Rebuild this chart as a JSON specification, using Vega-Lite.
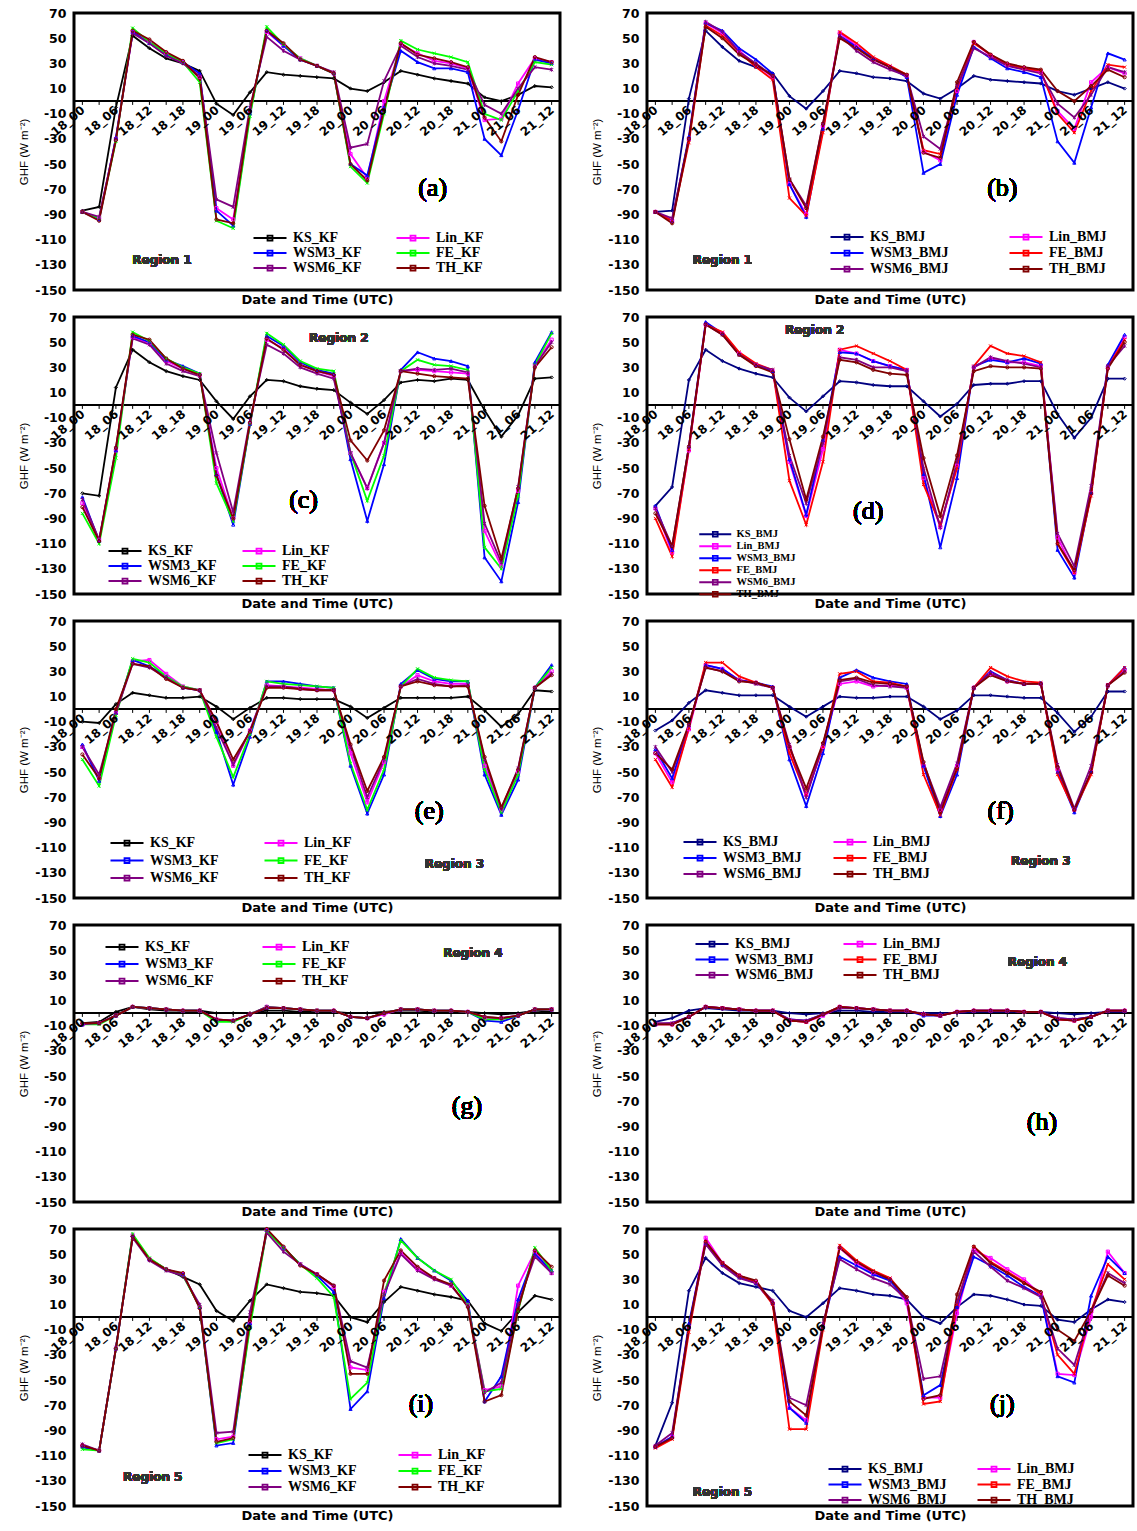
{"$schema":"https://vega.github.io/schema/vega-lite/v6.json","padding":{"left":17,"top":5,"right":0,"bottom":0},"background":"white",
"config":{"view":{"stroke":"black","strokeWidth":3},"axis":{"grid":false,"domain":false,"ticks":false},"axisX":{"labels":false,"titleFont":"DejaVu Sans","titleFontSize":13,"titleFontWeight":"bold","titleColor":"black","titlePadding":3},"axisY":{"labelFont":"DejaVu Sans","labelFontSize":12.5,"labelFontWeight":"bold","labelColor":"black","labelPadding":8,"labelOverlap":false,"labelFlush":false,"labelExpr":"'' + datum.value","titleFont":"Liberation Sans","titleFontSize":11.5,"titleFontWeight":"normal","titleColor":"black","titlePadding":5},"legend":{"labelFont":"Liberation Serif","labelFontSize":14,"labelFontWeight":"bold","labelColor":"black","symbolType":"M-3,0L3,0M-0.45,-0.45L0.45,-0.45L0.45,0.45L-0.45,0.45Z","symbolSize":121,"symbolStrokeWidth":1.8,"labelOffset":16,"padding":0,"labelLimit":300}},
"datasets":{
"tk":[{"t":0},{"t":1},{"t":2},{"t":3},{"t":4},{"t":5},{"t":6},{"t":7},{"t":8},{"t":9},{"t":10},{"t":11},{"t":12},{"t":13},{"t":14},{"t":15},{"t":16},{"t":17},{"t":18},{"t":19},{"t":20},{"t":21},{"t":22},{"t":23},{"t":24},{"t":25},{"t":26},{"t":27},{"t":28}],
"xl":[{"t":0,"lab":"18_00"},{"t":2,"lab":"18_06"},{"t":4,"lab":"18_12"},{"t":6,"lab":"18_18"},{"t":8,"lab":"19_00"},{"t":10,"lab":"19_06"},{"t":12,"lab":"19_12"},{"t":14,"lab":"19_18"},{"t":16,"lab":"20_00"},{"t":18,"lab":"20_06"},{"t":20,"lab":"20_12"},{"t":22,"lab":"20_18"},{"t":24,"lab":"21_00"},{"t":26,"lab":"21_06"},{"t":28,"lab":"21_12"}],
"a":[
{"s":"KS","t":0,"v":-87},{"s":"KS","t":1,"v":-84},{"s":"KS","t":2,"v":-5},{"s":"KS","t":3,"v":52},{"s":"KS","t":4,"v":42},{"s":"KS","t":5,"v":34},{"s":"KS","t":6,"v":30},{"s":"KS","t":7,"v":24},{"s":"KS","t":8,"v":-2},{"s":"KS","t":9,"v":-11},{"s":"KS","t":10,"v":7},{"s":"KS","t":11,"v":23},{"s":"KS","t":12,"v":21},{"s":"KS","t":13,"v":20},{"s":"KS","t":14,"v":19},{"s":"KS","t":15,"v":18},{"s":"KS","t":16,"v":10},{"s":"KS","t":17,"v":8},{"s":"KS","t":18,"v":15},{"s":"KS","t":19,"v":24},{"s":"KS","t":20,"v":21},{"s":"KS","t":21,"v":18},{"s":"KS","t":22,"v":16},{"s":"KS","t":23,"v":14},{"s":"KS","t":24,"v":3},{"s":"KS","t":25,"v":0},{"s":"KS","t":26,"v":5},{"s":"KS","t":27,"v":12},{"s":"KS","t":28,"v":11},
{"s":"Lin","t":0,"v":-88},{"s":"Lin","t":1,"v":-93},{"s":"Lin","t":2,"v":-30},{"s":"Lin","t":3,"v":55},{"s":"Lin","t":4,"v":47},{"s":"Lin","t":5,"v":38},{"s":"Lin","t":6,"v":31},{"s":"Lin","t":7,"v":19},{"s":"Lin","t":8,"v":-85},{"s":"Lin","t":9,"v":-94},{"s":"Lin","t":10,"v":-8},{"s":"Lin","t":11,"v":55},{"s":"Lin","t":12,"v":44},{"s":"Lin","t":13,"v":34},{"s":"Lin","t":14,"v":28},{"s":"Lin","t":15,"v":22},{"s":"Lin","t":16,"v":-42},{"s":"Lin","t":17,"v":-61},{"s":"Lin","t":18,"v":0},{"s":"Lin","t":19,"v":45},{"s":"Lin","t":20,"v":38},{"s":"Lin","t":21,"v":32},{"s":"Lin","t":22,"v":30},{"s":"Lin","t":23,"v":26},{"s":"Lin","t":24,"v":-15},{"s":"Lin","t":25,"v":-14},{"s":"Lin","t":26,"v":14},{"s":"Lin","t":27,"v":34},{"s":"Lin","t":28,"v":31},
{"s":"WSM3","t":0,"v":-88},{"s":"WSM3","t":1,"v":-94},{"s":"WSM3","t":2,"v":-29},{"s":"WSM3","t":3,"v":55},{"s":"WSM3","t":4,"v":46},{"s":"WSM3","t":5,"v":37},{"s":"WSM3","t":6,"v":31},{"s":"WSM3","t":7,"v":22},{"s":"WSM3","t":8,"v":-87},{"s":"WSM3","t":9,"v":-99},{"s":"WSM3","t":10,"v":-10},{"s":"WSM3","t":11,"v":56},{"s":"WSM3","t":12,"v":44},{"s":"WSM3","t":13,"v":33},{"s":"WSM3","t":14,"v":28},{"s":"WSM3","t":15,"v":22},{"s":"WSM3","t":16,"v":-50},{"s":"WSM3","t":17,"v":-59},{"s":"WSM3","t":18,"v":-5},{"s":"WSM3","t":19,"v":40},{"s":"WSM3","t":20,"v":31},{"s":"WSM3","t":21,"v":26},{"s":"WSM3","t":22,"v":26},{"s":"WSM3","t":23,"v":23},{"s":"WSM3","t":24,"v":-30},{"s":"WSM3","t":25,"v":-43},{"s":"WSM3","t":26,"v":-7},{"s":"WSM3","t":27,"v":33},{"s":"WSM3","t":28,"v":30},
{"s":"FE","t":0,"v":-88},{"s":"FE","t":1,"v":-93},{"s":"FE","t":2,"v":-32},{"s":"FE","t":3,"v":58},{"s":"FE","t":4,"v":47},{"s":"FE","t":5,"v":38},{"s":"FE","t":6,"v":31},{"s":"FE","t":7,"v":15},{"s":"FE","t":8,"v":-95},{"s":"FE","t":9,"v":-101},{"s":"FE","t":10,"v":-12},{"s":"FE","t":11,"v":59},{"s":"FE","t":12,"v":45},{"s":"FE","t":13,"v":34},{"s":"FE","t":14,"v":28},{"s":"FE","t":15,"v":22},{"s":"FE","t":16,"v":-52},{"s":"FE","t":17,"v":-65},{"s":"FE","t":18,"v":-10},{"s":"FE","t":19,"v":48},{"s":"FE","t":20,"v":41},{"s":"FE","t":21,"v":38},{"s":"FE","t":22,"v":35},{"s":"FE","t":23,"v":31},{"s":"FE","t":24,"v":-10},{"s":"FE","t":25,"v":-15},{"s":"FE","t":26,"v":8},{"s":"FE","t":27,"v":31},{"s":"FE","t":28,"v":29},
{"s":"WSM6","t":0,"v":-88},{"s":"WSM6","t":1,"v":-92},{"s":"WSM6","t":2,"v":-30},{"s":"WSM6","t":3,"v":54},{"s":"WSM6","t":4,"v":46},{"s":"WSM6","t":5,"v":36},{"s":"WSM6","t":6,"v":30},{"s":"WSM6","t":7,"v":20},{"s":"WSM6","t":8,"v":-78},{"s":"WSM6","t":9,"v":-84},{"s":"WSM6","t":10,"v":-5},{"s":"WSM6","t":11,"v":51},{"s":"WSM6","t":12,"v":40},{"s":"WSM6","t":13,"v":33},{"s":"WSM6","t":14,"v":28},{"s":"WSM6","t":15,"v":23},{"s":"WSM6","t":16,"v":-37},{"s":"WSM6","t":17,"v":-34},{"s":"WSM6","t":18,"v":16},{"s":"WSM6","t":19,"v":44},{"s":"WSM6","t":20,"v":35},{"s":"WSM6","t":21,"v":30},{"s":"WSM6","t":22,"v":28},{"s":"WSM6","t":23,"v":25},{"s":"WSM6","t":24,"v":-3},{"s":"WSM6","t":25,"v":-10},{"s":"WSM6","t":26,"v":10},{"s":"WSM6","t":27,"v":27},{"s":"WSM6","t":28,"v":25},
{"s":"TH","t":0,"v":-88},{"s":"TH","t":1,"v":-95},{"s":"TH","t":2,"v":-31},{"s":"TH","t":3,"v":56},{"s":"TH","t":4,"v":49},{"s":"TH","t":5,"v":39},{"s":"TH","t":6,"v":32},{"s":"TH","t":7,"v":18},{"s":"TH","t":8,"v":-94},{"s":"TH","t":9,"v":-97},{"s":"TH","t":10,"v":-8},{"s":"TH","t":11,"v":56},{"s":"TH","t":12,"v":46},{"s":"TH","t":13,"v":33},{"s":"TH","t":14,"v":28},{"s":"TH","t":15,"v":22},{"s":"TH","t":16,"v":-50},{"s":"TH","t":17,"v":-63},{"s":"TH","t":18,"v":-7},{"s":"TH","t":19,"v":46},{"s":"TH","t":20,"v":37},{"s":"TH","t":21,"v":34},{"s":"TH","t":22,"v":31},{"s":"TH","t":23,"v":27},{"s":"TH","t":24,"v":-13},{"s":"TH","t":25,"v":-32},{"s":"TH","t":26,"v":5},{"s":"TH","t":27,"v":35},{"s":"TH","t":28,"v":31}],
"b":[
{"s":"KS","t":0,"v":-88},{"s":"KS","t":1,"v":-87},{"s":"KS","t":2,"v":2},{"s":"KS","t":3,"v":56},{"s":"KS","t":4,"v":43},{"s":"KS","t":5,"v":32},{"s":"KS","t":6,"v":27},{"s":"KS","t":7,"v":22},{"s":"KS","t":8,"v":4},{"s":"KS","t":9,"v":-6},{"s":"KS","t":10,"v":8},{"s":"KS","t":11,"v":24},{"s":"KS","t":12,"v":22},{"s":"KS","t":13,"v":19},{"s":"KS","t":14,"v":18},{"s":"KS","t":15,"v":16},{"s":"KS","t":16,"v":6},{"s":"KS","t":17,"v":2},{"s":"KS","t":18,"v":10},{"s":"KS","t":19,"v":20},{"s":"KS","t":20,"v":17},{"s":"KS","t":21,"v":16},{"s":"KS","t":22,"v":15},{"s":"KS","t":23,"v":14},{"s":"KS","t":24,"v":8},{"s":"KS","t":25,"v":5},{"s":"KS","t":26,"v":10},{"s":"KS","t":27,"v":15},{"s":"KS","t":28,"v":10},
{"s":"Lin","t":0,"v":-88},{"s":"Lin","t":1,"v":-95},{"s":"Lin","t":2,"v":-30},{"s":"Lin","t":3,"v":62},{"s":"Lin","t":4,"v":54},{"s":"Lin","t":5,"v":40},{"s":"Lin","t":6,"v":29},{"s":"Lin","t":7,"v":19},{"s":"Lin","t":8,"v":-66},{"s":"Lin","t":9,"v":-90},{"s":"Lin","t":10,"v":-20},{"s":"Lin","t":11,"v":54},{"s":"Lin","t":12,"v":44},{"s":"Lin","t":13,"v":33},{"s":"Lin","t":14,"v":27},{"s":"Lin","t":15,"v":20},{"s":"Lin","t":16,"v":-40},{"s":"Lin","t":17,"v":-47},{"s":"Lin","t":18,"v":8},{"s":"Lin","t":19,"v":47},{"s":"Lin","t":20,"v":36},{"s":"Lin","t":21,"v":29},{"s":"Lin","t":22,"v":26},{"s":"Lin","t":23,"v":23},{"s":"Lin","t":24,"v":-8},{"s":"Lin","t":25,"v":-22},{"s":"Lin","t":26,"v":15},{"s":"Lin","t":27,"v":27},{"s":"Lin","t":28,"v":22},
{"s":"WSM3","t":0,"v":-88},{"s":"WSM3","t":1,"v":-95},{"s":"WSM3","t":2,"v":-28},{"s":"WSM3","t":3,"v":62},{"s":"WSM3","t":4,"v":56},{"s":"WSM3","t":5,"v":42},{"s":"WSM3","t":6,"v":33},{"s":"WSM3","t":7,"v":22},{"s":"WSM3","t":8,"v":-66},{"s":"WSM3","t":9,"v":-92},{"s":"WSM3","t":10,"v":-22},{"s":"WSM3","t":11,"v":52},{"s":"WSM3","t":12,"v":43},{"s":"WSM3","t":13,"v":34},{"s":"WSM3","t":14,"v":27},{"s":"WSM3","t":15,"v":19},{"s":"WSM3","t":16,"v":-57},{"s":"WSM3","t":17,"v":-50},{"s":"WSM3","t":18,"v":5},{"s":"WSM3","t":19,"v":43},{"s":"WSM3","t":20,"v":34},{"s":"WSM3","t":21,"v":26},{"s":"WSM3","t":22,"v":23},{"s":"WSM3","t":23,"v":19},{"s":"WSM3","t":24,"v":-32},{"s":"WSM3","t":25,"v":-49},{"s":"WSM3","t":26,"v":-5},{"s":"WSM3","t":27,"v":38},{"s":"WSM3","t":28,"v":33},
{"s":"FE","t":0,"v":-88},{"s":"FE","t":1,"v":-95},{"s":"FE","t":2,"v":-33},{"s":"FE","t":3,"v":60},{"s":"FE","t":4,"v":52},{"s":"FE","t":5,"v":39},{"s":"FE","t":6,"v":27},{"s":"FE","t":7,"v":17},{"s":"FE","t":8,"v":-77},{"s":"FE","t":9,"v":-91},{"s":"FE","t":10,"v":-25},{"s":"FE","t":11,"v":55},{"s":"FE","t":12,"v":46},{"s":"FE","t":13,"v":35},{"s":"FE","t":14,"v":28},{"s":"FE","t":15,"v":21},{"s":"FE","t":16,"v":-39},{"s":"FE","t":17,"v":-42},{"s":"FE","t":18,"v":10},{"s":"FE","t":19,"v":46},{"s":"FE","t":20,"v":37},{"s":"FE","t":21,"v":29},{"s":"FE","t":22,"v":26},{"s":"FE","t":23,"v":24},{"s":"FE","t":24,"v":-10},{"s":"FE","t":25,"v":-25},{"s":"FE","t":26,"v":8},{"s":"FE","t":27,"v":29},{"s":"FE","t":28,"v":27},
{"s":"WSM6","t":0,"v":-88},{"s":"WSM6","t":1,"v":-93},{"s":"WSM6","t":2,"v":-30},{"s":"WSM6","t":3,"v":63},{"s":"WSM6","t":4,"v":55},{"s":"WSM6","t":5,"v":39},{"s":"WSM6","t":6,"v":30},{"s":"WSM6","t":7,"v":20},{"s":"WSM6","t":8,"v":-62},{"s":"WSM6","t":9,"v":-83},{"s":"WSM6","t":10,"v":-18},{"s":"WSM6","t":11,"v":52},{"s":"WSM6","t":12,"v":40},{"s":"WSM6","t":13,"v":31},{"s":"WSM6","t":14,"v":25},{"s":"WSM6","t":15,"v":20},{"s":"WSM6","t":16,"v":-28},{"s":"WSM6","t":17,"v":-38},{"s":"WSM6","t":18,"v":12},{"s":"WSM6","t":19,"v":42},{"s":"WSM6","t":20,"v":35},{"s":"WSM6","t":21,"v":28},{"s":"WSM6","t":22,"v":25},{"s":"WSM6","t":23,"v":22},{"s":"WSM6","t":24,"v":-2},{"s":"WSM6","t":25,"v":-13},{"s":"WSM6","t":26,"v":5},{"s":"WSM6","t":27,"v":27},{"s":"WSM6","t":28,"v":23},
{"s":"TH","t":0,"v":-88},{"s":"TH","t":1,"v":-97},{"s":"TH","t":2,"v":-30},{"s":"TH","t":3,"v":59},{"s":"TH","t":4,"v":50},{"s":"TH","t":5,"v":37},{"s":"TH","t":6,"v":29},{"s":"TH","t":7,"v":20},{"s":"TH","t":8,"v":-62},{"s":"TH","t":9,"v":-85},{"s":"TH","t":10,"v":-18},{"s":"TH","t":11,"v":50},{"s":"TH","t":12,"v":42},{"s":"TH","t":13,"v":33},{"s":"TH","t":14,"v":27},{"s":"TH","t":15,"v":21},{"s":"TH","t":16,"v":-41},{"s":"TH","t":17,"v":-45},{"s":"TH","t":18,"v":15},{"s":"TH","t":19,"v":47},{"s":"TH","t":20,"v":37},{"s":"TH","t":21,"v":30},{"s":"TH","t":22,"v":27},{"s":"TH","t":23,"v":25},{"s":"TH","t":24,"v":8},{"s":"TH","t":25,"v":0},{"s":"TH","t":26,"v":12},{"s":"TH","t":27,"v":25},{"s":"TH","t":28,"v":19}],
"c":[
{"s":"KS","t":0,"v":-70},{"s":"KS","t":1,"v":-72},{"s":"KS","t":2,"v":14},{"s":"KS","t":3,"v":44},{"s":"KS","t":4,"v":34},{"s":"KS","t":5,"v":27},{"s":"KS","t":6,"v":23},{"s":"KS","t":7,"v":20},{"s":"KS","t":8,"v":3},{"s":"KS","t":9,"v":-11},{"s":"KS","t":10,"v":7},{"s":"KS","t":11,"v":20},{"s":"KS","t":12,"v":19},{"s":"KS","t":13,"v":15},{"s":"KS","t":14,"v":13},{"s":"KS","t":15,"v":12},{"s":"KS","t":16,"v":2},{"s":"KS","t":17,"v":-7},{"s":"KS","t":18,"v":4},{"s":"KS","t":19,"v":18},{"s":"KS","t":20,"v":20},{"s":"KS","t":21,"v":19},{"s":"KS","t":22,"v":21},{"s":"KS","t":23,"v":20},{"s":"KS","t":24,"v":-4},{"s":"KS","t":25,"v":-25},{"s":"KS","t":26,"v":-8},{"s":"KS","t":27,"v":21},{"s":"KS","t":28,"v":22},
{"s":"Lin","t":0,"v":-78},{"s":"Lin","t":1,"v":-107},{"s":"Lin","t":2,"v":-36},{"s":"Lin","t":3,"v":54},{"s":"Lin","t":4,"v":49},{"s":"Lin","t":5,"v":35},{"s":"Lin","t":6,"v":29},{"s":"Lin","t":7,"v":24},{"s":"Lin","t":8,"v":-50},{"s":"Lin","t":9,"v":-90},{"s":"Lin","t":10,"v":-15},{"s":"Lin","t":11,"v":52},{"s":"Lin","t":12,"v":45},{"s":"Lin","t":13,"v":32},{"s":"Lin","t":14,"v":27},{"s":"Lin","t":15,"v":23},{"s":"Lin","t":16,"v":-38},{"s":"Lin","t":17,"v":-66},{"s":"Lin","t":18,"v":-30},{"s":"Lin","t":19,"v":27},{"s":"Lin","t":20,"v":28},{"s":"Lin","t":21,"v":27},{"s":"Lin","t":22,"v":26},{"s":"Lin","t":23,"v":25},{"s":"Lin","t":24,"v":-100},{"s":"Lin","t":25,"v":-128},{"s":"Lin","t":26,"v":-68},{"s":"Lin","t":27,"v":32},{"s":"Lin","t":28,"v":52},
{"s":"WSM3","t":0,"v":-73},{"s":"WSM3","t":1,"v":-108},{"s":"WSM3","t":2,"v":-36},{"s":"WSM3","t":3,"v":55},{"s":"WSM3","t":4,"v":50},{"s":"WSM3","t":5,"v":36},{"s":"WSM3","t":6,"v":31},{"s":"WSM3","t":7,"v":25},{"s":"WSM3","t":8,"v":-55},{"s":"WSM3","t":9,"v":-95},{"s":"WSM3","t":10,"v":-15},{"s":"WSM3","t":11,"v":55},{"s":"WSM3","t":12,"v":47},{"s":"WSM3","t":13,"v":34},{"s":"WSM3","t":14,"v":28},{"s":"WSM3","t":15,"v":25},{"s":"WSM3","t":16,"v":-43},{"s":"WSM3","t":17,"v":-92},{"s":"WSM3","t":18,"v":-47},{"s":"WSM3","t":19,"v":28},{"s":"WSM3","t":20,"v":42},{"s":"WSM3","t":21,"v":37},{"s":"WSM3","t":22,"v":35},{"s":"WSM3","t":23,"v":31},{"s":"WSM3","t":24,"v":-121},{"s":"WSM3","t":25,"v":-140},{"s":"WSM3","t":26,"v":-77},{"s":"WSM3","t":27,"v":34},{"s":"WSM3","t":28,"v":58},
{"s":"FE","t":0,"v":-86},{"s":"FE","t":1,"v":-110},{"s":"FE","t":2,"v":-42},{"s":"FE","t":3,"v":58},{"s":"FE","t":4,"v":51},{"s":"FE","t":5,"v":37},{"s":"FE","t":6,"v":30},{"s":"FE","t":7,"v":25},{"s":"FE","t":8,"v":-62},{"s":"FE","t":9,"v":-92},{"s":"FE","t":10,"v":-15},{"s":"FE","t":11,"v":57},{"s":"FE","t":12,"v":48},{"s":"FE","t":13,"v":35},{"s":"FE","t":14,"v":29},{"s":"FE","t":15,"v":27},{"s":"FE","t":16,"v":-38},{"s":"FE","t":17,"v":-76},{"s":"FE","t":18,"v":-40},{"s":"FE","t":19,"v":27},{"s":"FE","t":20,"v":36},{"s":"FE","t":21,"v":32},{"s":"FE","t":22,"v":31},{"s":"FE","t":23,"v":28},{"s":"FE","t":24,"v":-113},{"s":"FE","t":25,"v":-130},{"s":"FE","t":26,"v":-72},{"s":"FE","t":27,"v":32},{"s":"FE","t":28,"v":57},
{"s":"WSM6","t":0,"v":-75},{"s":"WSM6","t":1,"v":-107},{"s":"WSM6","t":2,"v":-34},{"s":"WSM6","t":3,"v":53},{"s":"WSM6","t":4,"v":48},{"s":"WSM6","t":5,"v":33},{"s":"WSM6","t":6,"v":27},{"s":"WSM6","t":7,"v":23},{"s":"WSM6","t":8,"v":-38},{"s":"WSM6","t":9,"v":-85},{"s":"WSM6","t":10,"v":-12},{"s":"WSM6","t":11,"v":48},{"s":"WSM6","t":12,"v":41},{"s":"WSM6","t":13,"v":30},{"s":"WSM6","t":14,"v":25},{"s":"WSM6","t":15,"v":21},{"s":"WSM6","t":16,"v":-38},{"s":"WSM6","t":17,"v":-66},{"s":"WSM6","t":18,"v":-30},{"s":"WSM6","t":19,"v":27},{"s":"WSM6","t":20,"v":29},{"s":"WSM6","t":21,"v":28},{"s":"WSM6","t":22,"v":29},{"s":"WSM6","t":23,"v":26},{"s":"WSM6","t":24,"v":-94},{"s":"WSM6","t":25,"v":-125},{"s":"WSM6","t":26,"v":-65},{"s":"WSM6","t":27,"v":31},{"s":"WSM6","t":28,"v":50},
{"s":"TH","t":0,"v":-81},{"s":"TH","t":1,"v":-108},{"s":"TH","t":2,"v":-34},{"s":"TH","t":3,"v":56},{"s":"TH","t":4,"v":52},{"s":"TH","t":5,"v":37},{"s":"TH","t":6,"v":29},{"s":"TH","t":7,"v":24},{"s":"TH","t":8,"v":-56},{"s":"TH","t":9,"v":-90},{"s":"TH","t":10,"v":-14},{"s":"TH","t":11,"v":53},{"s":"TH","t":12,"v":44},{"s":"TH","t":13,"v":32},{"s":"TH","t":14,"v":27},{"s":"TH","t":15,"v":24},{"s":"TH","t":16,"v":-28},{"s":"TH","t":17,"v":-44},{"s":"TH","t":18,"v":-20},{"s":"TH","t":19,"v":27},{"s":"TH","t":20,"v":25},{"s":"TH","t":21,"v":23},{"s":"TH","t":22,"v":22},{"s":"TH","t":23,"v":21},{"s":"TH","t":24,"v":-80},{"s":"TH","t":25,"v":-122},{"s":"TH","t":26,"v":-66},{"s":"TH","t":27,"v":30},{"s":"TH","t":28,"v":46}],
"d":[
{"s":"KS","t":0,"v":-80},{"s":"KS","t":1,"v":-65},{"s":"KS","t":2,"v":20},{"s":"KS","t":3,"v":44},{"s":"KS","t":4,"v":35},{"s":"KS","t":5,"v":29},{"s":"KS","t":6,"v":25},{"s":"KS","t":7,"v":22},{"s":"KS","t":8,"v":6},{"s":"KS","t":9,"v":-5},{"s":"KS","t":10,"v":7},{"s":"KS","t":11,"v":19},{"s":"KS","t":12,"v":18},{"s":"KS","t":13,"v":16},{"s":"KS","t":14,"v":15},{"s":"KS","t":15,"v":15},{"s":"KS","t":16,"v":3},{"s":"KS","t":17,"v":-9},{"s":"KS","t":18,"v":1},{"s":"KS","t":19,"v":16},{"s":"KS","t":20,"v":17},{"s":"KS","t":21,"v":17},{"s":"KS","t":22,"v":19},{"s":"KS","t":23,"v":19},{"s":"KS","t":24,"v":-7},{"s":"KS","t":25,"v":-26},{"s":"KS","t":26,"v":-10},{"s":"KS","t":27,"v":21},{"s":"KS","t":28,"v":21},
{"s":"Lin","t":0,"v":-82},{"s":"Lin","t":1,"v":-117},{"s":"Lin","t":2,"v":-36},{"s":"Lin","t":3,"v":64},{"s":"Lin","t":4,"v":57},{"s":"Lin","t":5,"v":41},{"s":"Lin","t":6,"v":32},{"s":"Lin","t":7,"v":27},{"s":"Lin","t":8,"v":-45},{"s":"Lin","t":9,"v":-88},{"s":"Lin","t":10,"v":-35},{"s":"Lin","t":11,"v":44},{"s":"Lin","t":12,"v":41},{"s":"Lin","t":13,"v":35},{"s":"Lin","t":14,"v":31},{"s":"Lin","t":15,"v":28},{"s":"Lin","t":16,"v":-58},{"s":"Lin","t":17,"v":-97},{"s":"Lin","t":18,"v":-48},{"s":"Lin","t":19,"v":30},{"s":"Lin","t":20,"v":37},{"s":"Lin","t":21,"v":34},{"s":"Lin","t":22,"v":34},{"s":"Lin","t":23,"v":31},{"s":"Lin","t":24,"v":-105},{"s":"Lin","t":25,"v":-133},{"s":"Lin","t":26,"v":-70},{"s":"Lin","t":27,"v":30},{"s":"Lin","t":28,"v":54},
{"s":"WSM3","t":0,"v":-80},{"s":"WSM3","t":1,"v":-115},{"s":"WSM3","t":2,"v":-33},{"s":"WSM3","t":3,"v":66},{"s":"WSM3","t":4,"v":57},{"s":"WSM3","t":5,"v":41},{"s":"WSM3","t":6,"v":32},{"s":"WSM3","t":7,"v":27},{"s":"WSM3","t":8,"v":-43},{"s":"WSM3","t":9,"v":-87},{"s":"WSM3","t":10,"v":-28},{"s":"WSM3","t":11,"v":42},{"s":"WSM3","t":12,"v":41},{"s":"WSM3","t":13,"v":35},{"s":"WSM3","t":14,"v":31},{"s":"WSM3","t":15,"v":28},{"s":"WSM3","t":16,"v":-55},{"s":"WSM3","t":17,"v":-113},{"s":"WSM3","t":18,"v":-58},{"s":"WSM3","t":19,"v":31},{"s":"WSM3","t":20,"v":36},{"s":"WSM3","t":21,"v":34},{"s":"WSM3","t":22,"v":37},{"s":"WSM3","t":23,"v":33},{"s":"WSM3","t":24,"v":-115},{"s":"WSM3","t":25,"v":-137},{"s":"WSM3","t":26,"v":-70},{"s":"WSM3","t":27,"v":32},{"s":"WSM3","t":28,"v":56},
{"s":"FE","t":0,"v":-90},{"s":"FE","t":1,"v":-120},{"s":"FE","t":2,"v":-35},{"s":"FE","t":3,"v":64},{"s":"FE","t":4,"v":58},{"s":"FE","t":5,"v":42},{"s":"FE","t":6,"v":33},{"s":"FE","t":7,"v":28},{"s":"FE","t":8,"v":-60},{"s":"FE","t":9,"v":-95},{"s":"FE","t":10,"v":-45},{"s":"FE","t":11,"v":44},{"s":"FE","t":12,"v":47},{"s":"FE","t":13,"v":41},{"s":"FE","t":14,"v":35},{"s":"FE","t":15,"v":28},{"s":"FE","t":16,"v":-63},{"s":"FE","t":17,"v":-95},{"s":"FE","t":18,"v":-50},{"s":"FE","t":19,"v":31},{"s":"FE","t":20,"v":47},{"s":"FE","t":21,"v":41},{"s":"FE","t":22,"v":39},{"s":"FE","t":23,"v":34},{"s":"FE","t":24,"v":-110},{"s":"FE","t":25,"v":-133},{"s":"FE","t":26,"v":-72},{"s":"FE","t":27,"v":30},{"s":"FE","t":28,"v":52},
{"s":"WSM6","t":0,"v":-82},{"s":"WSM6","t":1,"v":-112},{"s":"WSM6","t":2,"v":-33},{"s":"WSM6","t":3,"v":64},{"s":"WSM6","t":4,"v":56},{"s":"WSM6","t":5,"v":40},{"s":"WSM6","t":6,"v":32},{"s":"WSM6","t":7,"v":28},{"s":"WSM6","t":8,"v":-40},{"s":"WSM6","t":9,"v":-78},{"s":"WSM6","t":10,"v":-30},{"s":"WSM6","t":11,"v":38},{"s":"WSM6","t":12,"v":36},{"s":"WSM6","t":13,"v":30},{"s":"WSM6","t":14,"v":30},{"s":"WSM6","t":15,"v":27},{"s":"WSM6","t":16,"v":-50},{"s":"WSM6","t":17,"v":-97},{"s":"WSM6","t":18,"v":-45},{"s":"WSM6","t":19,"v":30},{"s":"WSM6","t":20,"v":38},{"s":"WSM6","t":21,"v":35},{"s":"WSM6","t":22,"v":33},{"s":"WSM6","t":23,"v":30},{"s":"WSM6","t":24,"v":-102},{"s":"WSM6","t":25,"v":-128},{"s":"WSM6","t":26,"v":-64},{"s":"WSM6","t":27,"v":31},{"s":"WSM6","t":28,"v":47},
{"s":"TH","t":0,"v":-86},{"s":"TH","t":1,"v":-112},{"s":"TH","t":2,"v":-33},{"s":"TH","t":3,"v":64},{"s":"TH","t":4,"v":56},{"s":"TH","t":5,"v":40},{"s":"TH","t":6,"v":31},{"s":"TH","t":7,"v":26},{"s":"TH","t":8,"v":-27},{"s":"TH","t":9,"v":-75},{"s":"TH","t":10,"v":-25},{"s":"TH","t":11,"v":36},{"s":"TH","t":12,"v":34},{"s":"TH","t":13,"v":28},{"s":"TH","t":14,"v":25},{"s":"TH","t":15,"v":24},{"s":"TH","t":16,"v":-42},{"s":"TH","t":17,"v":-88},{"s":"TH","t":18,"v":-40},{"s":"TH","t":19,"v":27},{"s":"TH","t":20,"v":31},{"s":"TH","t":21,"v":30},{"s":"TH","t":22,"v":30},{"s":"TH","t":23,"v":29},{"s":"TH","t":24,"v":-110},{"s":"TH","t":25,"v":-131},{"s":"TH","t":26,"v":-70},{"s":"TH","t":27,"v":29},{"s":"TH","t":28,"v":50}],
"e":[
{"s":"KS","t":0,"v":-10},{"s":"KS","t":1,"v":-11},{"s":"KS","t":2,"v":4},{"s":"KS","t":3,"v":13},{"s":"KS","t":4,"v":11},{"s":"KS","t":5,"v":9},{"s":"KS","t":6,"v":9},{"s":"KS","t":7,"v":10},{"s":"KS","t":8,"v":2},{"s":"KS","t":9,"v":-8},{"s":"KS","t":10,"v":1},{"s":"KS","t":11,"v":9},{"s":"KS","t":12,"v":9},{"s":"KS","t":13,"v":8},{"s":"KS","t":14,"v":8},{"s":"KS","t":15,"v":8},{"s":"KS","t":16,"v":2},{"s":"KS","t":17,"v":-7},{"s":"KS","t":18,"v":1},{"s":"KS","t":19,"v":9},{"s":"KS","t":20,"v":9},{"s":"KS","t":21,"v":9},{"s":"KS","t":22,"v":9},{"s":"KS","t":23,"v":10},{"s":"KS","t":24,"v":-1},{"s":"KS","t":25,"v":-14},{"s":"KS","t":26,"v":-4},{"s":"KS","t":27,"v":15},{"s":"KS","t":28,"v":14},
{"s":"Lin","t":0,"v":-30},{"s":"Lin","t":1,"v":-55},{"s":"Lin","t":2,"v":-3},{"s":"Lin","t":3,"v":38},{"s":"Lin","t":4,"v":39},{"s":"Lin","t":5,"v":28},{"s":"Lin","t":6,"v":18},{"s":"Lin","t":7,"v":15},{"s":"Lin","t":8,"v":-10},{"s":"Lin","t":9,"v":-45},{"s":"Lin","t":10,"v":-17},{"s":"Lin","t":11,"v":19},{"s":"Lin","t":12,"v":18},{"s":"Lin","t":13,"v":17},{"s":"Lin","t":14,"v":16},{"s":"Lin","t":15,"v":15},{"s":"Lin","t":16,"v":-35},{"s":"Lin","t":17,"v":-74},{"s":"Lin","t":18,"v":-42},{"s":"Lin","t":19,"v":18},{"s":"Lin","t":20,"v":27},{"s":"Lin","t":21,"v":22},{"s":"Lin","t":22,"v":20},{"s":"Lin","t":23,"v":20},{"s":"Lin","t":24,"v":-45},{"s":"Lin","t":25,"v":-80},{"s":"Lin","t":26,"v":-50},{"s":"Lin","t":27,"v":17},{"s":"Lin","t":28,"v":30},
{"s":"WSM3","t":0,"v":-28},{"s":"WSM3","t":1,"v":-57},{"s":"WSM3","t":2,"v":-3},{"s":"WSM3","t":3,"v":39},{"s":"WSM3","t":4,"v":34},{"s":"WSM3","t":5,"v":26},{"s":"WSM3","t":6,"v":17},{"s":"WSM3","t":7,"v":15},{"s":"WSM3","t":8,"v":-18},{"s":"WSM3","t":9,"v":-60},{"s":"WSM3","t":10,"v":-22},{"s":"WSM3","t":11,"v":22},{"s":"WSM3","t":12,"v":22},{"s":"WSM3","t":13,"v":20},{"s":"WSM3","t":14,"v":18},{"s":"WSM3","t":15,"v":17},{"s":"WSM3","t":16,"v":-45},{"s":"WSM3","t":17,"v":-83},{"s":"WSM3","t":18,"v":-52},{"s":"WSM3","t":19,"v":20},{"s":"WSM3","t":20,"v":31},{"s":"WSM3","t":21,"v":24},{"s":"WSM3","t":22,"v":22},{"s":"WSM3","t":23,"v":22},{"s":"WSM3","t":24,"v":-52},{"s":"WSM3","t":25,"v":-84},{"s":"WSM3","t":26,"v":-56},{"s":"WSM3","t":27,"v":17},{"s":"WSM3","t":28,"v":35},
{"s":"FE","t":0,"v":-40},{"s":"FE","t":1,"v":-61},{"s":"FE","t":2,"v":-5},{"s":"FE","t":3,"v":40},{"s":"FE","t":4,"v":37},{"s":"FE","t":5,"v":26},{"s":"FE","t":6,"v":18},{"s":"FE","t":7,"v":15},{"s":"FE","t":8,"v":-22},{"s":"FE","t":9,"v":-54},{"s":"FE","t":10,"v":-20},{"s":"FE","t":11,"v":22},{"s":"FE","t":12,"v":20},{"s":"FE","t":13,"v":19},{"s":"FE","t":14,"v":18},{"s":"FE","t":15,"v":17},{"s":"FE","t":16,"v":-43},{"s":"FE","t":17,"v":-80},{"s":"FE","t":18,"v":-48},{"s":"FE","t":19,"v":18},{"s":"FE","t":20,"v":32},{"s":"FE","t":21,"v":25},{"s":"FE","t":22,"v":23},{"s":"FE","t":23,"v":22},{"s":"FE","t":24,"v":-48},{"s":"FE","t":25,"v":-82},{"s":"FE","t":26,"v":-52},{"s":"FE","t":27,"v":17},{"s":"FE","t":28,"v":33},
{"s":"WSM6","t":0,"v":-30},{"s":"WSM6","t":1,"v":-52},{"s":"WSM6","t":2,"v":-3},{"s":"WSM6","t":3,"v":36},{"s":"WSM6","t":4,"v":33},{"s":"WSM6","t":5,"v":25},{"s":"WSM6","t":6,"v":17},{"s":"WSM6","t":7,"v":15},{"s":"WSM6","t":8,"v":-15},{"s":"WSM6","t":9,"v":-44},{"s":"WSM6","t":10,"v":-17},{"s":"WSM6","t":11,"v":18},{"s":"WSM6","t":12,"v":18},{"s":"WSM6","t":13,"v":16},{"s":"WSM6","t":14,"v":15},{"s":"WSM6","t":15,"v":15},{"s":"WSM6","t":16,"v":-30},{"s":"WSM6","t":17,"v":-70},{"s":"WSM6","t":18,"v":-40},{"s":"WSM6","t":19,"v":18},{"s":"WSM6","t":20,"v":24},{"s":"WSM6","t":21,"v":20},{"s":"WSM6","t":22,"v":18},{"s":"WSM6","t":23,"v":19},{"s":"WSM6","t":24,"v":-40},{"s":"WSM6","t":25,"v":-79},{"s":"WSM6","t":26,"v":-47},{"s":"WSM6","t":27,"v":17},{"s":"WSM6","t":28,"v":28},
{"s":"TH","t":0,"v":-36},{"s":"TH","t":1,"v":-55},{"s":"TH","t":2,"v":0},{"s":"TH","t":3,"v":36},{"s":"TH","t":4,"v":34},{"s":"TH","t":5,"v":24},{"s":"TH","t":6,"v":17},{"s":"TH","t":7,"v":15},{"s":"TH","t":8,"v":-10},{"s":"TH","t":9,"v":-40},{"s":"TH","t":10,"v":-18},{"s":"TH","t":11,"v":17},{"s":"TH","t":12,"v":17},{"s":"TH","t":13,"v":16},{"s":"TH","t":14,"v":15},{"s":"TH","t":15,"v":15},{"s":"TH","t":16,"v":-28},{"s":"TH","t":17,"v":-65},{"s":"TH","t":18,"v":-38},{"s":"TH","t":19,"v":18},{"s":"TH","t":20,"v":22},{"s":"TH","t":21,"v":19},{"s":"TH","t":22,"v":18},{"s":"TH","t":23,"v":18},{"s":"TH","t":24,"v":-38},{"s":"TH","t":25,"v":-78},{"s":"TH","t":26,"v":-48},{"s":"TH","t":27,"v":17},{"s":"TH","t":28,"v":27}],
"f":[
{"s":"KS","t":0,"v":-17},{"s":"KS","t":1,"v":-9},{"s":"KS","t":2,"v":5},{"s":"KS","t":3,"v":15},{"s":"KS","t":4,"v":13},{"s":"KS","t":5,"v":11},{"s":"KS","t":6,"v":11},{"s":"KS","t":7,"v":11},{"s":"KS","t":8,"v":2},{"s":"KS","t":9,"v":-6},{"s":"KS","t":10,"v":2},{"s":"KS","t":11,"v":10},{"s":"KS","t":12,"v":9},{"s":"KS","t":13,"v":9},{"s":"KS","t":14,"v":10},{"s":"KS","t":15,"v":10},{"s":"KS","t":16,"v":2},{"s":"KS","t":17,"v":-8},{"s":"KS","t":18,"v":-1},{"s":"KS","t":19,"v":11},{"s":"KS","t":20,"v":11},{"s":"KS","t":21,"v":10},{"s":"KS","t":22,"v":9},{"s":"KS","t":23,"v":9},{"s":"KS","t":24,"v":-3},{"s":"KS","t":25,"v":-18},{"s":"KS","t":26,"v":-6},{"s":"KS","t":27,"v":14},{"s":"KS","t":28,"v":14},
{"s":"Lin","t":0,"v":-35},{"s":"Lin","t":1,"v":-58},{"s":"Lin","t":2,"v":-16},{"s":"Lin","t":3,"v":35},{"s":"Lin","t":4,"v":32},{"s":"Lin","t":5,"v":23},{"s":"Lin","t":6,"v":21},{"s":"Lin","t":7,"v":17},{"s":"Lin","t":8,"v":-30},{"s":"Lin","t":9,"v":-68},{"s":"Lin","t":10,"v":-30},{"s":"Lin","t":11,"v":20},{"s":"Lin","t":12,"v":22},{"s":"Lin","t":13,"v":18},{"s":"Lin","t":14,"v":19},{"s":"Lin","t":15,"v":17},{"s":"Lin","t":16,"v":-45},{"s":"Lin","t":17,"v":-80},{"s":"Lin","t":18,"v":-45},{"s":"Lin","t":19,"v":17},{"s":"Lin","t":20,"v":28},{"s":"Lin","t":21,"v":22},{"s":"Lin","t":22,"v":20},{"s":"Lin","t":23,"v":20},{"s":"Lin","t":24,"v":-48},{"s":"Lin","t":25,"v":-80},{"s":"Lin","t":26,"v":-50},{"s":"Lin","t":27,"v":19},{"s":"Lin","t":28,"v":31},
{"s":"WSM3","t":0,"v":-32},{"s":"WSM3","t":1,"v":-55},{"s":"WSM3","t":2,"v":-13},{"s":"WSM3","t":3,"v":35},{"s":"WSM3","t":4,"v":32},{"s":"WSM3","t":5,"v":23},{"s":"WSM3","t":6,"v":21},{"s":"WSM3","t":7,"v":18},{"s":"WSM3","t":8,"v":-40},{"s":"WSM3","t":9,"v":-77},{"s":"WSM3","t":10,"v":-35},{"s":"WSM3","t":11,"v":25},{"s":"WSM3","t":12,"v":31},{"s":"WSM3","t":13,"v":25},{"s":"WSM3","t":14,"v":22},{"s":"WSM3","t":15,"v":20},{"s":"WSM3","t":16,"v":-45},{"s":"WSM3","t":17,"v":-85},{"s":"WSM3","t":18,"v":-52},{"s":"WSM3","t":19,"v":17},{"s":"WSM3","t":20,"v":30},{"s":"WSM3","t":21,"v":23},{"s":"WSM3","t":22,"v":20},{"s":"WSM3","t":23,"v":21},{"s":"WSM3","t":24,"v":-50},{"s":"WSM3","t":25,"v":-82},{"s":"WSM3","t":26,"v":-50},{"s":"WSM3","t":27,"v":19},{"s":"WSM3","t":28,"v":33},
{"s":"FE","t":0,"v":-40},{"s":"FE","t":1,"v":-62},{"s":"FE","t":2,"v":-15},{"s":"FE","t":3,"v":37},{"s":"FE","t":4,"v":37},{"s":"FE","t":5,"v":26},{"s":"FE","t":6,"v":21},{"s":"FE","t":7,"v":17},{"s":"FE","t":8,"v":-35},{"s":"FE","t":9,"v":-68},{"s":"FE","t":10,"v":-30},{"s":"FE","t":11,"v":28},{"s":"FE","t":12,"v":30},{"s":"FE","t":13,"v":22},{"s":"FE","t":14,"v":21},{"s":"FE","t":15,"v":18},{"s":"FE","t":16,"v":-52},{"s":"FE","t":17,"v":-84},{"s":"FE","t":18,"v":-48},{"s":"FE","t":19,"v":17},{"s":"FE","t":20,"v":33},{"s":"FE","t":21,"v":26},{"s":"FE","t":22,"v":22},{"s":"FE","t":23,"v":21},{"s":"FE","t":24,"v":-52},{"s":"FE","t":25,"v":-80},{"s":"FE","t":26,"v":-52},{"s":"FE","t":27,"v":19},{"s":"FE","t":28,"v":33},
{"s":"WSM6","t":0,"v":-30},{"s":"WSM6","t":1,"v":-50},{"s":"WSM6","t":2,"v":-13},{"s":"WSM6","t":3,"v":33},{"s":"WSM6","t":4,"v":30},{"s":"WSM6","t":5,"v":23},{"s":"WSM6","t":6,"v":20},{"s":"WSM6","t":7,"v":17},{"s":"WSM6","t":8,"v":-28},{"s":"WSM6","t":9,"v":-70},{"s":"WSM6","t":10,"v":-28},{"s":"WSM6","t":11,"v":22},{"s":"WSM6","t":12,"v":24},{"s":"WSM6","t":13,"v":19},{"s":"WSM6","t":14,"v":18},{"s":"WSM6","t":15,"v":17},{"s":"WSM6","t":16,"v":-43},{"s":"WSM6","t":17,"v":-78},{"s":"WSM6","t":18,"v":-43},{"s":"WSM6","t":19,"v":17},{"s":"WSM6","t":20,"v":29},{"s":"WSM6","t":21,"v":23},{"s":"WSM6","t":22,"v":20},{"s":"WSM6","t":23,"v":20},{"s":"WSM6","t":24,"v":-44},{"s":"WSM6","t":25,"v":-79},{"s":"WSM6","t":26,"v":-45},{"s":"WSM6","t":27,"v":19},{"s":"WSM6","t":28,"v":30},
{"s":"TH","t":0,"v":-35},{"s":"TH","t":1,"v":-48},{"s":"TH","t":2,"v":-12},{"s":"TH","t":3,"v":33},{"s":"TH","t":4,"v":30},{"s":"TH","t":5,"v":22},{"s":"TH","t":6,"v":21},{"s":"TH","t":7,"v":17},{"s":"TH","t":8,"v":-30},{"s":"TH","t":9,"v":-63},{"s":"TH","t":10,"v":-27},{"s":"TH","t":11,"v":23},{"s":"TH","t":12,"v":25},{"s":"TH","t":13,"v":21},{"s":"TH","t":14,"v":20},{"s":"TH","t":15,"v":18},{"s":"TH","t":16,"v":-42},{"s":"TH","t":17,"v":-82},{"s":"TH","t":18,"v":-47},{"s":"TH","t":19,"v":17},{"s":"TH","t":20,"v":27},{"s":"TH","t":21,"v":22},{"s":"TH","t":22,"v":20},{"s":"TH","t":23,"v":20},{"s":"TH","t":24,"v":-46},{"s":"TH","t":25,"v":-80},{"s":"TH","t":26,"v":-50},{"s":"TH","t":27,"v":19},{"s":"TH","t":28,"v":29}],
"g":[
{"s":"KS","t":0,"v":-8},{"s":"KS","t":1,"v":-7},{"s":"KS","t":2,"v":1},{"s":"KS","t":3,"v":5},{"s":"KS","t":4,"v":3},{"s":"KS","t":5,"v":2},{"s":"KS","t":6,"v":2},{"s":"KS","t":7,"v":2},{"s":"KS","t":8,"v":0},{"s":"KS","t":9,"v":0},{"s":"KS","t":10,"v":0},{"s":"KS","t":11,"v":2},{"s":"KS","t":12,"v":2},{"s":"KS","t":13,"v":1},{"s":"KS","t":14,"v":1},{"s":"KS","t":15,"v":1},{"s":"KS","t":16,"v":0},{"s":"KS","t":17,"v":0},{"s":"KS","t":18,"v":1},{"s":"KS","t":19,"v":2},{"s":"KS","t":20,"v":2},{"s":"KS","t":21,"v":1},{"s":"KS","t":22,"v":1},{"s":"KS","t":23,"v":1},{"s":"KS","t":24,"v":0},{"s":"KS","t":25,"v":-1},{"s":"KS","t":26,"v":0},{"s":"KS","t":27,"v":2},{"s":"KS","t":28,"v":1},
{"s":"Lin","t":0,"v":-9},{"s":"Lin","t":1,"v":-8},{"s":"Lin","t":2,"v":-2},{"s":"Lin","t":3,"v":5},{"s":"Lin","t":4,"v":4},{"s":"Lin","t":5,"v":3},{"s":"Lin","t":6,"v":2},{"s":"Lin","t":7,"v":2},{"s":"Lin","t":8,"v":-5},{"s":"Lin","t":9,"v":-6},{"s":"Lin","t":10,"v":-1},{"s":"Lin","t":11,"v":5},{"s":"Lin","t":12,"v":4},{"s":"Lin","t":13,"v":3},{"s":"Lin","t":14,"v":2},{"s":"Lin","t":15,"v":2},{"s":"Lin","t":16,"v":-3},{"s":"Lin","t":17,"v":-4},{"s":"Lin","t":18,"v":-1},{"s":"Lin","t":19,"v":3},{"s":"Lin","t":20,"v":3},{"s":"Lin","t":21,"v":2},{"s":"Lin","t":22,"v":2},{"s":"Lin","t":23,"v":1},{"s":"Lin","t":24,"v":-4},{"s":"Lin","t":25,"v":-4},{"s":"Lin","t":26,"v":-2},{"s":"Lin","t":27,"v":3},{"s":"Lin","t":28,"v":3},
{"s":"WSM3","t":0,"v":-9},{"s":"WSM3","t":1,"v":-8},{"s":"WSM3","t":2,"v":-2},{"s":"WSM3","t":3,"v":5},{"s":"WSM3","t":4,"v":4},{"s":"WSM3","t":5,"v":3},{"s":"WSM3","t":6,"v":2},{"s":"WSM3","t":7,"v":2},{"s":"WSM3","t":8,"v":-6},{"s":"WSM3","t":9,"v":-6},{"s":"WSM3","t":10,"v":-1},{"s":"WSM3","t":11,"v":4},{"s":"WSM3","t":12,"v":4},{"s":"WSM3","t":13,"v":3},{"s":"WSM3","t":14,"v":2},{"s":"WSM3","t":15,"v":2},{"s":"WSM3","t":16,"v":-3},{"s":"WSM3","t":17,"v":-4},{"s":"WSM3","t":18,"v":0},{"s":"WSM3","t":19,"v":3},{"s":"WSM3","t":20,"v":3},{"s":"WSM3","t":21,"v":2},{"s":"WSM3","t":22,"v":2},{"s":"WSM3","t":23,"v":1},{"s":"WSM3","t":24,"v":-6},{"s":"WSM3","t":25,"v":-7},{"s":"WSM3","t":26,"v":-2},{"s":"WSM3","t":27,"v":3},{"s":"WSM3","t":28,"v":3},
{"s":"FE","t":0,"v":-9},{"s":"FE","t":1,"v":-9},{"s":"FE","t":2,"v":-2},{"s":"FE","t":3,"v":5},{"s":"FE","t":4,"v":4},{"s":"FE","t":5,"v":3},{"s":"FE","t":6,"v":2},{"s":"FE","t":7,"v":2},{"s":"FE","t":8,"v":-7},{"s":"FE","t":9,"v":-7},{"s":"FE","t":10,"v":-1},{"s":"FE","t":11,"v":5},{"s":"FE","t":12,"v":4},{"s":"FE","t":13,"v":3},{"s":"FE","t":14,"v":2},{"s":"FE","t":15,"v":2},{"s":"FE","t":16,"v":-3},{"s":"FE","t":17,"v":-4},{"s":"FE","t":18,"v":0},{"s":"FE","t":19,"v":3},{"s":"FE","t":20,"v":3},{"s":"FE","t":21,"v":2},{"s":"FE","t":22,"v":2},{"s":"FE","t":23,"v":1},{"s":"FE","t":24,"v":-5},{"s":"FE","t":25,"v":-5},{"s":"FE","t":26,"v":-2},{"s":"FE","t":27,"v":3},{"s":"FE","t":28,"v":3},
{"s":"WSM6","t":0,"v":-9},{"s":"WSM6","t":1,"v":-8},{"s":"WSM6","t":2,"v":-2},{"s":"WSM6","t":3,"v":5},{"s":"WSM6","t":4,"v":4},{"s":"WSM6","t":5,"v":3},{"s":"WSM6","t":6,"v":2},{"s":"WSM6","t":7,"v":2},{"s":"WSM6","t":8,"v":-5},{"s":"WSM6","t":9,"v":-6},{"s":"WSM6","t":10,"v":-1},{"s":"WSM6","t":11,"v":5},{"s":"WSM6","t":12,"v":4},{"s":"WSM6","t":13,"v":3},{"s":"WSM6","t":14,"v":2},{"s":"WSM6","t":15,"v":2},{"s":"WSM6","t":16,"v":-3},{"s":"WSM6","t":17,"v":-4},{"s":"WSM6","t":18,"v":0},{"s":"WSM6","t":19,"v":3},{"s":"WSM6","t":20,"v":3},{"s":"WSM6","t":21,"v":2},{"s":"WSM6","t":22,"v":2},{"s":"WSM6","t":23,"v":1},{"s":"WSM6","t":24,"v":-3},{"s":"WSM6","t":25,"v":-4},{"s":"WSM6","t":26,"v":-2},{"s":"WSM6","t":27,"v":3},{"s":"WSM6","t":28,"v":3},
{"s":"TH","t":0,"v":-8},{"s":"TH","t":1,"v":-8},{"s":"TH","t":2,"v":-2},{"s":"TH","t":3,"v":5},{"s":"TH","t":4,"v":4},{"s":"TH","t":5,"v":3},{"s":"TH","t":6,"v":2},{"s":"TH","t":7,"v":2},{"s":"TH","t":8,"v":-5},{"s":"TH","t":9,"v":-6},{"s":"TH","t":10,"v":-1},{"s":"TH","t":11,"v":4},{"s":"TH","t":12,"v":4},{"s":"TH","t":13,"v":3},{"s":"TH","t":14,"v":2},{"s":"TH","t":15,"v":2},{"s":"TH","t":16,"v":-3},{"s":"TH","t":17,"v":-4},{"s":"TH","t":18,"v":0},{"s":"TH","t":19,"v":3},{"s":"TH","t":20,"v":3},{"s":"TH","t":21,"v":2},{"s":"TH","t":22,"v":2},{"s":"TH","t":23,"v":1},{"s":"TH","t":24,"v":-3},{"s":"TH","t":25,"v":-4},{"s":"TH","t":26,"v":-2},{"s":"TH","t":27,"v":3},{"s":"TH","t":28,"v":3}],
"h":[
{"s":"KS","t":0,"v":-7},{"s":"KS","t":1,"v":-4},{"s":"KS","t":2,"v":2},{"s":"KS","t":3,"v":4},{"s":"KS","t":4,"v":3},{"s":"KS","t":5,"v":2},{"s":"KS","t":6,"v":2},{"s":"KS","t":7,"v":2},{"s":"KS","t":8,"v":0},{"s":"KS","t":9,"v":-1},{"s":"KS","t":10,"v":0},{"s":"KS","t":11,"v":2},{"s":"KS","t":12,"v":2},{"s":"KS","t":13,"v":1},{"s":"KS","t":14,"v":1},{"s":"KS","t":15,"v":1},{"s":"KS","t":16,"v":0},{"s":"KS","t":17,"v":0},{"s":"KS","t":18,"v":0},{"s":"KS","t":19,"v":1},{"s":"KS","t":20,"v":1},{"s":"KS","t":21,"v":1},{"s":"KS","t":22,"v":1},{"s":"KS","t":23,"v":1},{"s":"KS","t":24,"v":0},{"s":"KS","t":25,"v":-1},{"s":"KS","t":26,"v":0},{"s":"KS","t":27,"v":1},{"s":"KS","t":28,"v":1},
{"s":"Lin","t":0,"v":-9},{"s":"Lin","t":1,"v":-9},{"s":"Lin","t":2,"v":-3},{"s":"Lin","t":3,"v":5},{"s":"Lin","t":4,"v":4},{"s":"Lin","t":5,"v":3},{"s":"Lin","t":6,"v":2},{"s":"Lin","t":7,"v":2},{"s":"Lin","t":8,"v":-6},{"s":"Lin","t":9,"v":-7},{"s":"Lin","t":10,"v":-2},{"s":"Lin","t":11,"v":5},{"s":"Lin","t":12,"v":4},{"s":"Lin","t":13,"v":3},{"s":"Lin","t":14,"v":2},{"s":"Lin","t":15,"v":2},{"s":"Lin","t":16,"v":-1},{"s":"Lin","t":17,"v":-2},{"s":"Lin","t":18,"v":1},{"s":"Lin","t":19,"v":2},{"s":"Lin","t":20,"v":2},{"s":"Lin","t":21,"v":2},{"s":"Lin","t":22,"v":1},{"s":"Lin","t":23,"v":1},{"s":"Lin","t":24,"v":-5},{"s":"Lin","t":25,"v":-6},{"s":"Lin","t":26,"v":-3},{"s":"Lin","t":27,"v":2},{"s":"Lin","t":28,"v":2},
{"s":"WSM3","t":0,"v":-9},{"s":"WSM3","t":1,"v":-8},{"s":"WSM3","t":2,"v":-3},{"s":"WSM3","t":3,"v":5},{"s":"WSM3","t":4,"v":4},{"s":"WSM3","t":5,"v":3},{"s":"WSM3","t":6,"v":2},{"s":"WSM3","t":7,"v":2},{"s":"WSM3","t":8,"v":-5},{"s":"WSM3","t":9,"v":-6},{"s":"WSM3","t":10,"v":-1},{"s":"WSM3","t":11,"v":5},{"s":"WSM3","t":12,"v":4},{"s":"WSM3","t":13,"v":3},{"s":"WSM3","t":14,"v":2},{"s":"WSM3","t":15,"v":2},{"s":"WSM3","t":16,"v":-2},{"s":"WSM3","t":17,"v":-2},{"s":"WSM3","t":18,"v":1},{"s":"WSM3","t":19,"v":2},{"s":"WSM3","t":20,"v":2},{"s":"WSM3","t":21,"v":2},{"s":"WSM3","t":22,"v":1},{"s":"WSM3","t":23,"v":1},{"s":"WSM3","t":24,"v":-4},{"s":"WSM3","t":25,"v":-5},{"s":"WSM3","t":26,"v":-3},{"s":"WSM3","t":27,"v":2},{"s":"WSM3","t":28,"v":2},
{"s":"FE","t":0,"v":-9},{"s":"FE","t":1,"v":-9},{"s":"FE","t":2,"v":-3},{"s":"FE","t":3,"v":5},{"s":"FE","t":4,"v":4},{"s":"FE","t":5,"v":3},{"s":"FE","t":6,"v":2},{"s":"FE","t":7,"v":2},{"s":"FE","t":8,"v":-6},{"s":"FE","t":9,"v":-7},{"s":"FE","t":10,"v":-1},{"s":"FE","t":11,"v":5},{"s":"FE","t":12,"v":4},{"s":"FE","t":13,"v":3},{"s":"FE","t":14,"v":2},{"s":"FE","t":15,"v":2},{"s":"FE","t":16,"v":-1},{"s":"FE","t":17,"v":-2},{"s":"FE","t":18,"v":1},{"s":"FE","t":19,"v":2},{"s":"FE","t":20,"v":2},{"s":"FE","t":21,"v":2},{"s":"FE","t":22,"v":1},{"s":"FE","t":23,"v":1},{"s":"FE","t":24,"v":-5},{"s":"FE","t":25,"v":-6},{"s":"FE","t":26,"v":-3},{"s":"FE","t":27,"v":2},{"s":"FE","t":28,"v":2},
{"s":"WSM6","t":0,"v":-8},{"s":"WSM6","t":1,"v":-8},{"s":"WSM6","t":2,"v":-3},{"s":"WSM6","t":3,"v":5},{"s":"WSM6","t":4,"v":4},{"s":"WSM6","t":5,"v":3},{"s":"WSM6","t":6,"v":2},{"s":"WSM6","t":7,"v":2},{"s":"WSM6","t":8,"v":-5},{"s":"WSM6","t":9,"v":-6},{"s":"WSM6","t":10,"v":-1},{"s":"WSM6","t":11,"v":4},{"s":"WSM6","t":12,"v":4},{"s":"WSM6","t":13,"v":3},{"s":"WSM6","t":14,"v":2},{"s":"WSM6","t":15,"v":2},{"s":"WSM6","t":16,"v":-1},{"s":"WSM6","t":17,"v":-2},{"s":"WSM6","t":18,"v":1},{"s":"WSM6","t":19,"v":2},{"s":"WSM6","t":20,"v":2},{"s":"WSM6","t":21,"v":2},{"s":"WSM6","t":22,"v":1},{"s":"WSM6","t":23,"v":1},{"s":"WSM6","t":24,"v":-4},{"s":"WSM6","t":25,"v":-5},{"s":"WSM6","t":26,"v":-3},{"s":"WSM6","t":27,"v":2},{"s":"WSM6","t":28,"v":2},
{"s":"TH","t":0,"v":-9},{"s":"TH","t":1,"v":-9},{"s":"TH","t":2,"v":-3},{"s":"TH","t":3,"v":5},{"s":"TH","t":4,"v":4},{"s":"TH","t":5,"v":3},{"s":"TH","t":6,"v":2},{"s":"TH","t":7,"v":2},{"s":"TH","t":8,"v":-6},{"s":"TH","t":9,"v":-7},{"s":"TH","t":10,"v":-1},{"s":"TH","t":11,"v":5},{"s":"TH","t":12,"v":4},{"s":"TH","t":13,"v":3},{"s":"TH","t":14,"v":2},{"s":"TH","t":15,"v":2},{"s":"TH","t":16,"v":-1},{"s":"TH","t":17,"v":-2},{"s":"TH","t":18,"v":1},{"s":"TH","t":19,"v":2},{"s":"TH","t":20,"v":2},{"s":"TH","t":21,"v":2},{"s":"TH","t":22,"v":1},{"s":"TH","t":23,"v":1},{"s":"TH","t":24,"v":-5},{"s":"TH","t":25,"v":-6},{"s":"TH","t":26,"v":-3},{"s":"TH","t":27,"v":2},{"s":"TH","t":28,"v":2}],
"i":[
{"s":"KS","t":0,"v":-103},{"s":"KS","t":1,"v":-106},{"s":"KS","t":2,"v":-25},{"s":"KS","t":3,"v":64},{"s":"KS","t":4,"v":46},{"s":"KS","t":5,"v":38},{"s":"KS","t":6,"v":32},{"s":"KS","t":7,"v":26},{"s":"KS","t":8,"v":5},{"s":"KS","t":9,"v":-3},{"s":"KS","t":10,"v":13},{"s":"KS","t":11,"v":26},{"s":"KS","t":12,"v":23},{"s":"KS","t":13,"v":20},{"s":"KS","t":14,"v":19},{"s":"KS","t":15,"v":17},{"s":"KS","t":16,"v":0},{"s":"KS","t":17,"v":-4},{"s":"KS","t":18,"v":12},{"s":"KS","t":19,"v":24},{"s":"KS","t":20,"v":21},{"s":"KS","t":21,"v":18},{"s":"KS","t":22,"v":16},{"s":"KS","t":23,"v":13},{"s":"KS","t":24,"v":-5},{"s":"KS","t":25,"v":-11},{"s":"KS","t":26,"v":4},{"s":"KS","t":27,"v":17},{"s":"KS","t":28,"v":14},
{"s":"Lin","t":0,"v":-102},{"s":"Lin","t":1,"v":-106},{"s":"Lin","t":2,"v":-25},{"s":"Lin","t":3,"v":65},{"s":"Lin","t":4,"v":46},{"s":"Lin","t":5,"v":38},{"s":"Lin","t":6,"v":34},{"s":"Lin","t":7,"v":8},{"s":"Lin","t":8,"v":-97},{"s":"Lin","t":9,"v":-95},{"s":"Lin","t":10,"v":-5},{"s":"Lin","t":11,"v":69},{"s":"Lin","t":12,"v":55},{"s":"Lin","t":13,"v":42},{"s":"Lin","t":14,"v":34},{"s":"Lin","t":15,"v":24},{"s":"Lin","t":16,"v":-40},{"s":"Lin","t":17,"v":-42},{"s":"Lin","t":18,"v":20},{"s":"Lin","t":19,"v":51},{"s":"Lin","t":20,"v":38},{"s":"Lin","t":21,"v":31},{"s":"Lin","t":22,"v":25},{"s":"Lin","t":23,"v":10},{"s":"Lin","t":24,"v":-58},{"s":"Lin","t":25,"v":-55},{"s":"Lin","t":26,"v":25},{"s":"Lin","t":27,"v":52},{"s":"Lin","t":28,"v":35},
{"s":"WSM3","t":0,"v":-103},{"s":"WSM3","t":1,"v":-106},{"s":"WSM3","t":2,"v":-25},{"s":"WSM3","t":3,"v":65},{"s":"WSM3","t":4,"v":46},{"s":"WSM3","t":5,"v":38},{"s":"WSM3","t":6,"v":34},{"s":"WSM3","t":7,"v":8},{"s":"WSM3","t":8,"v":-102},{"s":"WSM3","t":9,"v":-100},{"s":"WSM3","t":10,"v":-5},{"s":"WSM3","t":11,"v":69},{"s":"WSM3","t":12,"v":55},{"s":"WSM3","t":13,"v":42},{"s":"WSM3","t":14,"v":33},{"s":"WSM3","t":15,"v":20},{"s":"WSM3","t":16,"v":-73},{"s":"WSM3","t":17,"v":-59},{"s":"WSM3","t":18,"v":15},{"s":"WSM3","t":19,"v":62},{"s":"WSM3","t":20,"v":47},{"s":"WSM3","t":21,"v":37},{"s":"WSM3","t":22,"v":29},{"s":"WSM3","t":23,"v":13},{"s":"WSM3","t":24,"v":-67},{"s":"WSM3","t":25,"v":-47},{"s":"WSM3","t":26,"v":14},{"s":"WSM3","t":27,"v":50},{"s":"WSM3","t":28,"v":37},
{"s":"FE","t":0,"v":-105},{"s":"FE","t":1,"v":-106},{"s":"FE","t":2,"v":-25},{"s":"FE","t":3,"v":66},{"s":"FE","t":4,"v":47},{"s":"FE","t":5,"v":38},{"s":"FE","t":6,"v":33},{"s":"FE","t":7,"v":8},{"s":"FE","t":8,"v":-100},{"s":"FE","t":9,"v":-97},{"s":"FE","t":10,"v":-8},{"s":"FE","t":11,"v":68},{"s":"FE","t":12,"v":55},{"s":"FE","t":13,"v":42},{"s":"FE","t":14,"v":31},{"s":"FE","t":15,"v":16},{"s":"FE","t":16,"v":-65},{"s":"FE","t":17,"v":-52},{"s":"FE","t":18,"v":18},{"s":"FE","t":19,"v":61},{"s":"FE","t":20,"v":47},{"s":"FE","t":21,"v":37},{"s":"FE","t":22,"v":30},{"s":"FE","t":23,"v":10},{"s":"FE","t":24,"v":-59},{"s":"FE","t":25,"v":-57},{"s":"FE","t":26,"v":5},{"s":"FE","t":27,"v":55},{"s":"FE","t":28,"v":37},
{"s":"WSM6","t":0,"v":-101},{"s":"WSM6","t":1,"v":-106},{"s":"WSM6","t":2,"v":-24},{"s":"WSM6","t":3,"v":63},{"s":"WSM6","t":4,"v":45},{"s":"WSM6","t":5,"v":37},{"s":"WSM6","t":6,"v":33},{"s":"WSM6","t":7,"v":10},{"s":"WSM6","t":8,"v":-92},{"s":"WSM6","t":9,"v":-91},{"s":"WSM6","t":10,"v":4},{"s":"WSM6","t":11,"v":67},{"s":"WSM6","t":12,"v":52},{"s":"WSM6","t":13,"v":42},{"s":"WSM6","t":14,"v":34},{"s":"WSM6","t":15,"v":25},{"s":"WSM6","t":16,"v":-35},{"s":"WSM6","t":17,"v":-40},{"s":"WSM6","t":18,"v":18},{"s":"WSM6","t":19,"v":50},{"s":"WSM6","t":20,"v":37},{"s":"WSM6","t":21,"v":30},{"s":"WSM6","t":22,"v":25},{"s":"WSM6","t":23,"v":9},{"s":"WSM6","t":24,"v":-60},{"s":"WSM6","t":25,"v":-52},{"s":"WSM6","t":26,"v":10},{"s":"WSM6","t":27,"v":48},{"s":"WSM6","t":28,"v":35},
{"s":"TH","t":0,"v":-102},{"s":"TH","t":1,"v":-106},{"s":"TH","t":2,"v":-25},{"s":"TH","t":3,"v":64},{"s":"TH","t":4,"v":46},{"s":"TH","t":5,"v":38},{"s":"TH","t":6,"v":35},{"s":"TH","t":7,"v":7},{"s":"TH","t":8,"v":-99},{"s":"TH","t":9,"v":-96},{"s":"TH","t":10,"v":-3},{"s":"TH","t":11,"v":70},{"s":"TH","t":12,"v":56},{"s":"TH","t":13,"v":41},{"s":"TH","t":14,"v":34},{"s":"TH","t":15,"v":25},{"s":"TH","t":16,"v":-45},{"s":"TH","t":17,"v":-45},{"s":"TH","t":18,"v":29},{"s":"TH","t":19,"v":53},{"s":"TH","t":20,"v":40},{"s":"TH","t":21,"v":31},{"s":"TH","t":22,"v":26},{"s":"TH","t":23,"v":8},{"s":"TH","t":24,"v":-67},{"s":"TH","t":25,"v":-62},{"s":"TH","t":26,"v":6},{"s":"TH","t":27,"v":53},{"s":"TH","t":28,"v":40}],
"j":[
{"s":"KS","t":0,"v":-102},{"s":"KS","t":1,"v":-68},{"s":"KS","t":2,"v":21},{"s":"KS","t":3,"v":47},{"s":"KS","t":4,"v":35},{"s":"KS","t":5,"v":27},{"s":"KS","t":6,"v":24},{"s":"KS","t":7,"v":21},{"s":"KS","t":8,"v":5},{"s":"KS","t":9,"v":0},{"s":"KS","t":10,"v":11},{"s":"KS","t":11,"v":23},{"s":"KS","t":12,"v":21},{"s":"KS","t":13,"v":18},{"s":"KS","t":14,"v":17},{"s":"KS","t":15,"v":14},{"s":"KS","t":16,"v":0},{"s":"KS","t":17,"v":-5},{"s":"KS","t":18,"v":8},{"s":"KS","t":19,"v":18},{"s":"KS","t":20,"v":17},{"s":"KS","t":21,"v":14},{"s":"KS","t":22,"v":10},{"s":"KS","t":23,"v":9},{"s":"KS","t":24,"v":-2},{"s":"KS","t":25,"v":-4},{"s":"KS","t":26,"v":6},{"s":"KS","t":27,"v":14},{"s":"KS","t":28,"v":12},
{"s":"Lin","t":0,"v":-103},{"s":"Lin","t":1,"v":-95},{"s":"Lin","t":2,"v":-8},{"s":"Lin","t":3,"v":63},{"s":"Lin","t":4,"v":43},{"s":"Lin","t":5,"v":33},{"s":"Lin","t":6,"v":28},{"s":"Lin","t":7,"v":11},{"s":"Lin","t":8,"v":-72},{"s":"Lin","t":9,"v":-82},{"s":"Lin","t":10,"v":-8},{"s":"Lin","t":11,"v":55},{"s":"Lin","t":12,"v":43},{"s":"Lin","t":13,"v":35},{"s":"Lin","t":14,"v":30},{"s":"Lin","t":15,"v":11},{"s":"Lin","t":16,"v":-64},{"s":"Lin","t":17,"v":-64},{"s":"Lin","t":18,"v":3},{"s":"Lin","t":19,"v":53},{"s":"Lin","t":20,"v":47},{"s":"Lin","t":21,"v":38},{"s":"Lin","t":22,"v":30},{"s":"Lin","t":23,"v":18},{"s":"Lin","t":24,"v":-45},{"s":"Lin","t":25,"v":-46},{"s":"Lin","t":26,"v":0},{"s":"Lin","t":27,"v":52},{"s":"Lin","t":28,"v":35},
{"s":"WSM3","t":0,"v":-103},{"s":"WSM3","t":1,"v":-95},{"s":"WSM3","t":2,"v":-5},{"s":"WSM3","t":3,"v":59},{"s":"WSM3","t":4,"v":42},{"s":"WSM3","t":5,"v":32},{"s":"WSM3","t":6,"v":27},{"s":"WSM3","t":7,"v":11},{"s":"WSM3","t":8,"v":-72},{"s":"WSM3","t":9,"v":-84},{"s":"WSM3","t":10,"v":-8},{"s":"WSM3","t":11,"v":48},{"s":"WSM3","t":12,"v":41},{"s":"WSM3","t":13,"v":34},{"s":"WSM3","t":14,"v":29},{"s":"WSM3","t":15,"v":14},{"s":"WSM3","t":16,"v":-62},{"s":"WSM3","t":17,"v":-54},{"s":"WSM3","t":18,"v":8},{"s":"WSM3","t":19,"v":48},{"s":"WSM3","t":20,"v":41},{"s":"WSM3","t":21,"v":33},{"s":"WSM3","t":22,"v":24},{"s":"WSM3","t":23,"v":17},{"s":"WSM3","t":24,"v":-47},{"s":"WSM3","t":25,"v":-52},{"s":"WSM3","t":26,"v":17},{"s":"WSM3","t":27,"v":48},{"s":"WSM3","t":28,"v":35},
{"s":"FE","t":0,"v":-104},{"s":"FE","t":1,"v":-97},{"s":"FE","t":2,"v":-12},{"s":"FE","t":3,"v":60},{"s":"FE","t":4,"v":43},{"s":"FE","t":5,"v":33},{"s":"FE","t":6,"v":28},{"s":"FE","t":7,"v":10},{"s":"FE","t":8,"v":-89},{"s":"FE","t":9,"v":-89},{"s":"FE","t":10,"v":-10},{"s":"FE","t":11,"v":57},{"s":"FE","t":12,"v":45},{"s":"FE","t":13,"v":37},{"s":"FE","t":14,"v":31},{"s":"FE","t":15,"v":15},{"s":"FE","t":16,"v":-69},{"s":"FE","t":17,"v":-67},{"s":"FE","t":18,"v":10},{"s":"FE","t":19,"v":56},{"s":"FE","t":20,"v":44},{"s":"FE","t":21,"v":36},{"s":"FE","t":22,"v":28},{"s":"FE","t":23,"v":18},{"s":"FE","t":24,"v":-30},{"s":"FE","t":25,"v":-45},{"s":"FE","t":26,"v":5},{"s":"FE","t":27,"v":42},{"s":"FE","t":28,"v":30},
{"s":"WSM6","t":0,"v":-102},{"s":"WSM6","t":1,"v":-92},{"s":"WSM6","t":2,"v":-8},{"s":"WSM6","t":3,"v":58},{"s":"WSM6","t":4,"v":41},{"s":"WSM6","t":5,"v":31},{"s":"WSM6","t":6,"v":27},{"s":"WSM6","t":7,"v":13},{"s":"WSM6","t":8,"v":-64},{"s":"WSM6","t":9,"v":-70},{"s":"WSM6","t":10,"v":-5},{"s":"WSM6","t":11,"v":46},{"s":"WSM6","t":12,"v":38},{"s":"WSM6","t":13,"v":31},{"s":"WSM6","t":14,"v":26},{"s":"WSM6","t":15,"v":14},{"s":"WSM6","t":16,"v":-49},{"s":"WSM6","t":17,"v":-47},{"s":"WSM6","t":18,"v":12},{"s":"WSM6","t":19,"v":52},{"s":"WSM6","t":20,"v":40},{"s":"WSM6","t":21,"v":29},{"s":"WSM6","t":22,"v":23},{"s":"WSM6","t":23,"v":16},{"s":"WSM6","t":24,"v":-25},{"s":"WSM6","t":25,"v":-38},{"s":"WSM6","t":26,"v":5},{"s":"WSM6","t":27,"v":35},{"s":"WSM6","t":28,"v":27},
{"s":"TH","t":0,"v":-103},{"s":"TH","t":1,"v":-96},{"s":"TH","t":2,"v":-8},{"s":"TH","t":3,"v":60},{"s":"TH","t":4,"v":43},{"s":"TH","t":5,"v":33},{"s":"TH","t":6,"v":29},{"s":"TH","t":7,"v":11},{"s":"TH","t":8,"v":-67},{"s":"TH","t":9,"v":-78},{"s":"TH","t":10,"v":-8},{"s":"TH","t":11,"v":55},{"s":"TH","t":12,"v":44},{"s":"TH","t":13,"v":36},{"s":"TH","t":14,"v":30},{"s":"TH","t":15,"v":16},{"s":"TH","t":16,"v":-65},{"s":"TH","t":17,"v":-62},{"s":"TH","t":18,"v":18},{"s":"TH","t":19,"v":56},{"s":"TH","t":20,"v":43},{"s":"TH","t":21,"v":35},{"s":"TH","t":22,"v":27},{"s":"TH","t":23,"v":20},{"s":"TH","t":24,"v":-10},{"s":"TH","t":25,"v":-19},{"s":"TH","t":26,"v":5},{"s":"TH","t":27,"v":33},{"s":"TH","t":28,"v":25}]
},
"spacing":1,
"resolve":{"scale":{"x":"independent","y":"independent","color":"independent","shape":"independent"}},
"vconcat":[
{"hconcat":[
{"width":486,"height":277,"data":{"name":"a"},"layer":[
{"data":{"name":"tk"},"mark":{"type":"rule","color":"black","strokeWidth":1},"encoding":{"x":{"field":"t","type":"quantitative","title":"Date and Time (UTC)"},"y":{"datum":0},"y2":{"datum":-3}}},
{"mark":{"type":"rule","color":"black","strokeWidth":1},"encoding":{"y":{"datum":0}}},
{"mark":{"type":"line","strokeWidth":1.8},"encoding":{"x":{"field":"t","type":"quantitative","title":"Date and Time (UTC)","scale":{"domain":[-0.5,28.5],"nice":false,"zero":false}},"y":{"field":"v","type":"quantitative","title":"GHF (W m⁻²)","scale":{"domain":[-150,70],"nice":false,"zero":false},"axis":{"values":[-150,-130,-110,-90,-70,-50,-30,-10,10,30,50,70],"tickCount":20,"labelOverlap":false}},"color":{"field":"s","type":"nominal","scale":{"domain":["KS","WSM3","WSM6","Lin","FE","TH"],"range":["#000000","#0000FF","#800080","#FF00FF","#00FF00","#800000"]},"legend":{"title":null,"orient":"none","legendX":189,"legendY":218,"columns":2,"columnPadding":30,"rowPadding":1,"labelExpr":"datum.label + '_KF'"}}}},
{"mark":{"type":"point","filled":false,"size":10,"strokeWidth":1,"opacity":1},"encoding":{"x":{"field":"t","type":"quantitative","title":"Date and Time (UTC)"},"y":{"field":"v","type":"quantitative","title":"GHF (W m⁻²)"},"color":{"field":"s","type":"nominal","legend":null},"shape":{"field":"s","type":"nominal","scale":{"domain":["KS","Lin","WSM3","FE","WSM6","TH"],"range":["diamond","square","triangle-up","M-1,-1L1,1M-1,1L1,-1","M-1,-1L1,1M-1,1L1,-1M0,-1.3L0,1.3","circle"]},"legend":null}}},
{"data":{"name":"xl"},"mark":{"type":"text","angle":-40,"align":"right","baseline":"middle","dx":-4,"dy":6,"font":"DejaVu Sans","fontWeight":"bold","fontSize":12,"color":"black"},"encoding":{"x":{"field":"t","type":"quantitative","title":"Date and Time (UTC)"},"y":{"datum":0},"text":{"field":"lab"}}},
{"mark":{"type":"text","font":"Liberation Serif","fontSize":26,"color":"black"},"encoding":{"x":{"datum":20.9},"y":{"datum":-69},"text":{"value":"(a)"}}},
{"mark":{"type":"text","font":"DejaVu Sans","fontWeight":"bold","fontSize":12,"color":"#333333"},"encoding":{"x":{"datum":4.75},"y":{"datum":-126},"text":{"value":"Region 1"}}}]},
{"width":486,"height":277,"data":{"name":"b"},"layer":[
{"data":{"name":"tk"},"mark":{"type":"rule","color":"black","strokeWidth":1},"encoding":{"x":{"field":"t","type":"quantitative","title":"Date and Time (UTC)"},"y":{"datum":0},"y2":{"datum":-3}}},
{"mark":{"type":"rule","color":"black","strokeWidth":1},"encoding":{"y":{"datum":0}}},
{"mark":{"type":"line","strokeWidth":1.8},"encoding":{"x":{"field":"t","type":"quantitative","title":"Date and Time (UTC)","scale":{"domain":[-0.5,28.5],"nice":false,"zero":false}},"y":{"field":"v","type":"quantitative","title":"GHF (W m⁻²)","scale":{"domain":[-150,70],"nice":false,"zero":false},"axis":{"values":[-150,-130,-110,-90,-70,-50,-30,-10,10,30,50,70],"tickCount":20,"labelOverlap":false}},"color":{"field":"s","type":"nominal","scale":{"domain":["KS","WSM3","WSM6","Lin","FE","TH"],"range":["#000080","#0000FF","#800080","#FF00FF","#FF0000","#800000"]},"legend":{"title":null,"orient":"none","legendX":193,"legendY":217,"columns":2,"columnPadding":56,"rowPadding":2,"labelExpr":"datum.label + '_BMJ'"}}}},
{"mark":{"type":"point","filled":false,"size":10,"strokeWidth":1,"opacity":1},"encoding":{"x":{"field":"t","type":"quantitative","title":"Date and Time (UTC)"},"y":{"field":"v","type":"quantitative","title":"GHF (W m⁻²)"},"color":{"field":"s","type":"nominal","legend":null},"shape":{"field":"s","type":"nominal","scale":{"domain":["KS","Lin","WSM3","FE","WSM6","TH"],"range":["diamond","square","triangle-up","M-1,-1L1,1M-1,1L1,-1","M-1,-1L1,1M-1,1L1,-1M0,-1.3L0,1.3","circle"]},"legend":null}}},
{"data":{"name":"xl"},"mark":{"type":"text","angle":-40,"align":"right","baseline":"middle","dx":-4,"dy":6,"font":"DejaVu Sans","fontWeight":"bold","fontSize":12,"color":"black"},"encoding":{"x":{"field":"t","type":"quantitative","title":"Date and Time (UTC)"},"y":{"datum":0},"text":{"field":"lab"}}},
{"mark":{"type":"text","font":"Liberation Serif","fontSize":26,"color":"black"},"encoding":{"x":{"datum":20.7},"y":{"datum":-69},"text":{"value":"(b)"}}},
{"mark":{"type":"text","font":"DejaVu Sans","fontWeight":"bold","fontSize":12,"color":"#333333"},"encoding":{"x":{"datum":4.0},"y":{"datum":-126},"text":{"value":"Region 1"}}}]}
],"spacing":28,"resolve":{"scale":{"x":"independent","y":"independent","color":"independent","shape":"independent"}}},
{"hconcat":[
{"width":486,"height":277,"data":{"name":"c"},"layer":[
{"data":{"name":"tk"},"mark":{"type":"rule","color":"black","strokeWidth":1},"encoding":{"x":{"field":"t","type":"quantitative","title":"Date and Time (UTC)"},"y":{"datum":0},"y2":{"datum":-3}}},
{"mark":{"type":"rule","color":"black","strokeWidth":1},"encoding":{"y":{"datum":0}}},
{"mark":{"type":"line","strokeWidth":1.8},"encoding":{"x":{"field":"t","type":"quantitative","title":"Date and Time (UTC)","scale":{"domain":[-0.5,28.5],"nice":false,"zero":false}},"y":{"field":"v","type":"quantitative","title":"GHF (W m⁻²)","scale":{"domain":[-150,70],"nice":false,"zero":false},"axis":{"values":[-150,-130,-110,-90,-70,-50,-30,-10,10,30,50,70],"tickCount":20,"labelOverlap":false}},"color":{"field":"s","type":"nominal","scale":{"domain":["KS","WSM3","WSM6","Lin","FE","TH"],"range":["#000000","#0000FF","#800080","#FF00FF","#00FF00","#800000"]},"legend":{"title":null,"orient":"none","legendX":44,"legendY":227,"columns":2,"columnPadding":21,"rowPadding":1,"labelExpr":"datum.label + '_KF'"}}}},
{"mark":{"type":"point","filled":false,"size":10,"strokeWidth":1,"opacity":1},"encoding":{"x":{"field":"t","type":"quantitative","title":"Date and Time (UTC)"},"y":{"field":"v","type":"quantitative","title":"GHF (W m⁻²)"},"color":{"field":"s","type":"nominal","legend":null},"shape":{"field":"s","type":"nominal","scale":{"domain":["KS","Lin","WSM3","FE","WSM6","TH"],"range":["diamond","square","triangle-up","M-1,-1L1,1M-1,1L1,-1","M-1,-1L1,1M-1,1L1,-1M0,-1.3L0,1.3","circle"]},"legend":null}}},
{"data":{"name":"xl"},"mark":{"type":"text","angle":-40,"align":"right","baseline":"middle","dx":-4,"dy":6,"font":"DejaVu Sans","fontWeight":"bold","fontSize":12,"color":"black"},"encoding":{"x":{"field":"t","type":"quantitative","title":"Date and Time (UTC)"},"y":{"datum":0},"text":{"field":"lab"}}},
{"mark":{"type":"text","font":"Liberation Serif","fontSize":26,"color":"black"},"encoding":{"x":{"datum":13.2},"y":{"datum":-75},"text":{"value":"(c)"}}},
{"mark":{"type":"text","font":"DejaVu Sans","fontWeight":"bold","fontSize":12,"color":"#333333"},"encoding":{"x":{"datum":15.3},"y":{"datum":53},"text":{"value":"Region 2"}}}]},
{"width":486,"height":277,"data":{"name":"d"},"layer":[
{"data":{"name":"tk"},"mark":{"type":"rule","color":"black","strokeWidth":1},"encoding":{"x":{"field":"t","type":"quantitative","title":"Date and Time (UTC)"},"y":{"datum":0},"y2":{"datum":-3}}},
{"mark":{"type":"rule","color":"black","strokeWidth":1},"encoding":{"y":{"datum":0}}},
{"mark":{"type":"line","strokeWidth":1.8},"encoding":{"x":{"field":"t","type":"quantitative","title":"Date and Time (UTC)","scale":{"domain":[-0.5,28.5],"nice":false,"zero":false}},"y":{"field":"v","type":"quantitative","title":"GHF (W m⁻²)","scale":{"domain":[-150,70],"nice":false,"zero":false},"axis":{"values":[-150,-130,-110,-90,-70,-50,-30,-10,10,30,50,70],"tickCount":20,"labelOverlap":false}},"color":{"field":"s","type":"nominal","scale":{"domain":["KS","Lin","WSM3","FE","WSM6","TH"],"range":["#000080","#FF00FF","#0000FF","#FF0000","#800080","#800000"]},"legend":{"title":null,"orient":"none","legendX":63,"legendY":212,"columns":1,"rowPadding":-1.5,"labelFontSize":10.5,"symbolType":"M-4,0L4,0M-0.6,-0.6L0.6,-0.6L0.6,0.6L-0.6,0.6Z","symbolSize":64,"labelOffset":16,"labelExpr":"datum.label + '_BMJ'"}}}},
{"mark":{"type":"point","filled":false,"size":10,"strokeWidth":1,"opacity":1},"encoding":{"x":{"field":"t","type":"quantitative","title":"Date and Time (UTC)"},"y":{"field":"v","type":"quantitative","title":"GHF (W m⁻²)"},"color":{"field":"s","type":"nominal","legend":null},"shape":{"field":"s","type":"nominal","scale":{"domain":["TH","WSM6","FE","WSM3","Lin","KS"],"range":["circle","M-1,-1L1,1M-1,1L1,-1M0,-1.3L0,1.3","M-1,-1L1,1M-1,1L1,-1","triangle-up","square","diamond"]},"legend":null}}},
{"data":{"name":"xl"},"mark":{"type":"text","angle":-40,"align":"right","baseline":"middle","dx":-4,"dy":6,"font":"DejaVu Sans","fontWeight":"bold","fontSize":12,"color":"black"},"encoding":{"x":{"field":"t","type":"quantitative","title":"Date and Time (UTC)"},"y":{"datum":0},"text":{"field":"lab"}}},
{"mark":{"type":"text","font":"Liberation Serif","fontSize":26,"color":"black"},"encoding":{"x":{"datum":12.7},"y":{"datum":-84},"text":{"value":"(d)"}}},
{"mark":{"type":"text","font":"DejaVu Sans","fontWeight":"bold","fontSize":12,"color":"#333333"},"encoding":{"x":{"datum":9.5},"y":{"datum":60},"text":{"value":"Region 2"}}}]}
],"spacing":28,"resolve":{"scale":{"x":"independent","y":"independent","color":"independent","shape":"independent"}}},
{"hconcat":[
{"width":486,"height":277,"data":{"name":"e"},"layer":[
{"data":{"name":"tk"},"mark":{"type":"rule","color":"black","strokeWidth":1},"encoding":{"x":{"field":"t","type":"quantitative","title":"Date and Time (UTC)"},"y":{"datum":0},"y2":{"datum":-3}}},
{"mark":{"type":"rule","color":"black","strokeWidth":1},"encoding":{"y":{"datum":0}}},
{"mark":{"type":"line","strokeWidth":1.8},"encoding":{"x":{"field":"t","type":"quantitative","title":"Date and Time (UTC)","scale":{"domain":[-0.5,28.5],"nice":false,"zero":false}},"y":{"field":"v","type":"quantitative","title":"GHF (W m⁻²)","scale":{"domain":[-150,70],"nice":false,"zero":false},"axis":{"values":[-150,-130,-110,-90,-70,-50,-30,-10,10,30,50,70],"tickCount":20,"labelOverlap":false}},"color":{"field":"s","type":"nominal","scale":{"domain":["KS","WSM3","WSM6","Lin","FE","TH"],"range":["#000000","#0000FF","#800080","#FF00FF","#00FF00","#800000"]},"legend":{"title":null,"orient":"none","legendX":46,"legendY":215,"columns":2,"columnPadding":41,"rowPadding":3.5,"labelExpr":"datum.label + '_KF'"}}}},
{"mark":{"type":"point","filled":false,"size":10,"strokeWidth":1,"opacity":1},"encoding":{"x":{"field":"t","type":"quantitative","title":"Date and Time (UTC)"},"y":{"field":"v","type":"quantitative","title":"GHF (W m⁻²)"},"color":{"field":"s","type":"nominal","legend":null},"shape":{"field":"s","type":"nominal","scale":{"domain":["KS","Lin","WSM3","FE","WSM6","TH"],"range":["diamond","square","triangle-up","M-1,-1L1,1M-1,1L1,-1","M-1,-1L1,1M-1,1L1,-1M0,-1.3L0,1.3","circle"]},"legend":null}}},
{"data":{"name":"xl"},"mark":{"type":"text","angle":-40,"align":"right","baseline":"middle","dx":-4,"dy":6,"font":"DejaVu Sans","fontWeight":"bold","fontSize":12,"color":"black"},"encoding":{"x":{"field":"t","type":"quantitative","title":"Date and Time (UTC)"},"y":{"datum":0},"text":{"field":"lab"}}},
{"mark":{"type":"text","font":"Liberation Serif","fontSize":26,"color":"black"},"encoding":{"x":{"datum":20.7},"y":{"datum":-81},"text":{"value":"(e)"}}},
{"mark":{"type":"text","font":"DejaVu Sans","fontWeight":"bold","fontSize":12,"color":"#333333"},"encoding":{"x":{"datum":22.2},"y":{"datum":-123},"text":{"value":"Region 3"}}}]},
{"width":486,"height":277,"data":{"name":"f"},"layer":[
{"data":{"name":"tk"},"mark":{"type":"rule","color":"black","strokeWidth":1},"encoding":{"x":{"field":"t","type":"quantitative","title":"Date and Time (UTC)"},"y":{"datum":0},"y2":{"datum":-3}}},
{"mark":{"type":"rule","color":"black","strokeWidth":1},"encoding":{"y":{"datum":0}}},
{"mark":{"type":"line","strokeWidth":1.8},"encoding":{"x":{"field":"t","type":"quantitative","title":"Date and Time (UTC)","scale":{"domain":[-0.5,28.5],"nice":false,"zero":false}},"y":{"field":"v","type":"quantitative","title":"GHF (W m⁻²)","scale":{"domain":[-150,70],"nice":false,"zero":false},"axis":{"values":[-150,-130,-110,-90,-70,-50,-30,-10,10,30,50,70],"tickCount":20,"labelOverlap":false}},"color":{"field":"s","type":"nominal","scale":{"domain":["KS","WSM3","WSM6","Lin","FE","TH"],"range":["#000080","#0000FF","#800080","#FF00FF","#FF0000","#800000"]},"legend":{"title":null,"orient":"none","legendX":46,"legendY":214,"columns":2,"columnPadding":27,"rowPadding":2,"labelExpr":"datum.label + '_BMJ'"}}}},
{"mark":{"type":"point","filled":false,"size":10,"strokeWidth":1,"opacity":1},"encoding":{"x":{"field":"t","type":"quantitative","title":"Date and Time (UTC)"},"y":{"field":"v","type":"quantitative","title":"GHF (W m⁻²)"},"color":{"field":"s","type":"nominal","legend":null},"shape":{"field":"s","type":"nominal","scale":{"domain":["KS","Lin","WSM3","FE","WSM6","TH"],"range":["diamond","square","triangle-up","M-1,-1L1,1M-1,1L1,-1","M-1,-1L1,1M-1,1L1,-1M0,-1.3L0,1.3","circle"]},"legend":null}}},
{"data":{"name":"xl"},"mark":{"type":"text","angle":-40,"align":"right","baseline":"middle","dx":-4,"dy":6,"font":"DejaVu Sans","fontWeight":"bold","fontSize":12,"color":"black"},"encoding":{"x":{"field":"t","type":"quantitative","title":"Date and Time (UTC)"},"y":{"datum":0},"text":{"field":"lab"}}},
{"mark":{"type":"text","font":"Liberation Serif","fontSize":26,"color":"black"},"encoding":{"x":{"datum":20.6},"y":{"datum":-81},"text":{"value":"(f)"}}},
{"mark":{"type":"text","font":"DejaVu Sans","fontWeight":"bold","fontSize":12,"color":"#333333"},"encoding":{"x":{"datum":23.0},"y":{"datum":-121},"text":{"value":"Region 3"}}}]}
],"spacing":28,"resolve":{"scale":{"x":"independent","y":"independent","color":"independent","shape":"independent"}}},
{"hconcat":[
{"width":486,"height":277,"data":{"name":"g"},"layer":[
{"data":{"name":"tk"},"mark":{"type":"rule","color":"black","strokeWidth":1},"encoding":{"x":{"field":"t","type":"quantitative","title":"Date and Time (UTC)"},"y":{"datum":0},"y2":{"datum":-3}}},
{"mark":{"type":"rule","color":"black","strokeWidth":1},"encoding":{"y":{"datum":0}}},
{"mark":{"type":"line","strokeWidth":1.8},"encoding":{"x":{"field":"t","type":"quantitative","title":"Date and Time (UTC)","scale":{"domain":[-0.5,28.5],"nice":false,"zero":false}},"y":{"field":"v","type":"quantitative","title":"GHF (W m⁻²)","scale":{"domain":[-150,70],"nice":false,"zero":false},"axis":{"values":[-150,-130,-110,-90,-70,-50,-30,-10,10,30,50,70],"tickCount":20,"labelOverlap":false}},"color":{"field":"s","type":"nominal","scale":{"domain":["KS","WSM3","WSM6","Lin","FE","TH"],"range":["#000000","#0000FF","#800080","#FF00FF","#00FF00","#800000"]},"legend":{"title":null,"orient":"none","legendX":41,"legendY":15,"columns":2,"columnPadding":44,"rowPadding":3,"labelExpr":"datum.label + '_KF'"}}}},
{"mark":{"type":"point","filled":false,"size":10,"strokeWidth":1,"opacity":1},"encoding":{"x":{"field":"t","type":"quantitative","title":"Date and Time (UTC)"},"y":{"field":"v","type":"quantitative","title":"GHF (W m⁻²)"},"color":{"field":"s","type":"nominal","legend":null},"shape":{"field":"s","type":"nominal","scale":{"domain":["KS","Lin","WSM3","FE","WSM6","TH"],"range":["diamond","square","triangle-up","M-1,-1L1,1M-1,1L1,-1","M-1,-1L1,1M-1,1L1,-1M0,-1.3L0,1.3","circle"]},"legend":null}}},
{"data":{"name":"xl"},"mark":{"type":"text","angle":-40,"align":"right","baseline":"middle","dx":-4,"dy":6,"font":"DejaVu Sans","fontWeight":"bold","fontSize":12,"color":"black"},"encoding":{"x":{"field":"t","type":"quantitative","title":"Date and Time (UTC)"},"y":{"datum":0},"text":{"field":"lab"}}},
{"mark":{"type":"text","font":"Liberation Serif","fontSize":26,"color":"black"},"encoding":{"x":{"datum":22.95},"y":{"datum":-74},"text":{"value":"(g)"}}},
{"mark":{"type":"text","font":"DejaVu Sans","fontWeight":"bold","fontSize":12,"color":"#333333"},"encoding":{"x":{"datum":23.3},"y":{"datum":48},"text":{"value":"Region 4"}}}]},
{"width":486,"height":277,"data":{"name":"h"},"layer":[
{"data":{"name":"tk"},"mark":{"type":"rule","color":"black","strokeWidth":1},"encoding":{"x":{"field":"t","type":"quantitative","title":"Date and Time (UTC)"},"y":{"datum":0},"y2":{"datum":-3}}},
{"mark":{"type":"rule","color":"black","strokeWidth":1},"encoding":{"y":{"datum":0}}},
{"mark":{"type":"line","strokeWidth":1.8},"encoding":{"x":{"field":"t","type":"quantitative","title":"Date and Time (UTC)","scale":{"domain":[-0.5,28.5],"nice":false,"zero":false}},"y":{"field":"v","type":"quantitative","title":"GHF (W m⁻²)","scale":{"domain":[-150,70],"nice":false,"zero":false},"axis":{"values":[-150,-130,-110,-90,-70,-50,-30,-10,10,30,50,70],"tickCount":20,"labelOverlap":false}},"color":{"field":"s","type":"nominal","scale":{"domain":["KS","WSM3","WSM6","Lin","FE","TH"],"range":["#000080","#0000FF","#800080","#FF00FF","#FF0000","#800000"]},"legend":{"title":null,"orient":"none","legendX":58,"legendY":12,"columns":2,"columnPadding":25,"rowPadding":1.5,"labelExpr":"datum.label + '_BMJ'"}}}},
{"mark":{"type":"point","filled":false,"size":10,"strokeWidth":1,"opacity":1},"encoding":{"x":{"field":"t","type":"quantitative","title":"Date and Time (UTC)"},"y":{"field":"v","type":"quantitative","title":"GHF (W m⁻²)"},"color":{"field":"s","type":"nominal","legend":null},"shape":{"field":"s","type":"nominal","scale":{"domain":["KS","Lin","WSM3","FE","WSM6","TH"],"range":["diamond","square","triangle-up","M-1,-1L1,1M-1,1L1,-1","M-1,-1L1,1M-1,1L1,-1M0,-1.3L0,1.3","circle"]},"legend":null}}},
{"data":{"name":"xl"},"mark":{"type":"text","angle":-40,"align":"right","baseline":"middle","dx":-4,"dy":6,"font":"DejaVu Sans","fontWeight":"bold","fontSize":12,"color":"black"},"encoding":{"x":{"field":"t","type":"quantitative","title":"Date and Time (UTC)"},"y":{"datum":0},"text":{"field":"lab"}}},
{"mark":{"type":"text","font":"Liberation Serif","fontSize":26,"color":"black"},"encoding":{"x":{"datum":23.07},"y":{"datum":-86.5},"text":{"value":"(h)"}}},
{"mark":{"type":"text","font":"DejaVu Sans","fontWeight":"bold","fontSize":12,"color":"#333333"},"encoding":{"x":{"datum":22.8},"y":{"datum":40.6},"text":{"value":"Region 4"}}}]}
],"spacing":28,"resolve":{"scale":{"x":"independent","y":"independent","color":"independent","shape":"independent"}}},
{"hconcat":[
{"width":486,"height":277,"data":{"name":"i"},"layer":[
{"data":{"name":"tk"},"mark":{"type":"rule","color":"black","strokeWidth":1},"encoding":{"x":{"field":"t","type":"quantitative","title":"Date and Time (UTC)"},"y":{"datum":0},"y2":{"datum":-3}}},
{"mark":{"type":"rule","color":"black","strokeWidth":1},"encoding":{"y":{"datum":0}}},
{"mark":{"type":"line","strokeWidth":1.8},"encoding":{"x":{"field":"t","type":"quantitative","title":"Date and Time (UTC)","scale":{"domain":[-0.5,28.5],"nice":false,"zero":false}},"y":{"field":"v","type":"quantitative","title":"GHF (W m⁻²)","scale":{"domain":[-150,70],"nice":false,"zero":false},"axis":{"values":[-150,-130,-110,-90,-70,-50,-30,-10,10,30,50,70],"tickCount":20,"labelOverlap":false}},"color":{"field":"s","type":"nominal","scale":{"domain":["KS","WSM3","WSM6","Lin","FE","TH"],"range":["#000000","#0000FF","#800080","#FF00FF","#00FF00","#800000"]},"legend":{"title":null,"orient":"none","legendX":184,"legendY":219,"columns":2,"columnPadding":37,"rowPadding":2,"labelExpr":"datum.label + '_KF'"}}}},
{"mark":{"type":"point","filled":false,"size":10,"strokeWidth":1,"opacity":1},"encoding":{"x":{"field":"t","type":"quantitative","title":"Date and Time (UTC)"},"y":{"field":"v","type":"quantitative","title":"GHF (W m⁻²)"},"color":{"field":"s","type":"nominal","legend":null},"shape":{"field":"s","type":"nominal","scale":{"domain":["KS","Lin","WSM3","FE","WSM6","TH"],"range":["diamond","square","triangle-up","M-1,-1L1,1M-1,1L1,-1","M-1,-1L1,1M-1,1L1,-1M0,-1.3L0,1.3","circle"]},"legend":null}}},
{"data":{"name":"xl"},"mark":{"type":"text","angle":-40,"align":"right","baseline":"middle","dx":-4,"dy":6,"font":"DejaVu Sans","fontWeight":"bold","fontSize":12,"color":"black"},"encoding":{"x":{"field":"t","type":"quantitative","title":"Date and Time (UTC)"},"y":{"datum":0},"text":{"field":"lab"}}},
{"mark":{"type":"text","font":"Liberation Serif","fontSize":26,"color":"black"},"encoding":{"x":{"datum":20.2},"y":{"datum":-69},"text":{"value":"(i)"}}},
{"mark":{"type":"text","font":"DejaVu Sans","fontWeight":"bold","fontSize":12,"color":"#333333"},"encoding":{"x":{"datum":4.2},"y":{"datum":-127},"text":{"value":"Region 5"}}}]},
{"width":486,"height":277,"data":{"name":"j"},"layer":[
{"data":{"name":"tk"},"mark":{"type":"rule","color":"black","strokeWidth":1},"encoding":{"x":{"field":"t","type":"quantitative","title":"Date and Time (UTC)"},"y":{"datum":0},"y2":{"datum":-3}}},
{"mark":{"type":"rule","color":"black","strokeWidth":1},"encoding":{"y":{"datum":0}}},
{"mark":{"type":"line","strokeWidth":1.8},"encoding":{"x":{"field":"t","type":"quantitative","title":"Date and Time (UTC)","scale":{"domain":[-0.5,28.5],"nice":false,"zero":false}},"y":{"field":"v","type":"quantitative","title":"GHF (W m⁻²)","scale":{"domain":[-150,70],"nice":false,"zero":false},"axis":{"values":[-150,-130,-110,-90,-70,-50,-30,-10,10,30,50,70],"tickCount":20,"labelOverlap":false}},"color":{"field":"s","type":"nominal","scale":{"domain":["KS","WSM3","WSM6","Lin","FE","TH"],"range":["#000080","#0000FF","#800080","#FF00FF","#FF0000","#800000"]},"legend":{"title":null,"orient":"none","legendX":191,"legendY":233,"columns":2,"columnPadding":26,"rowPadding":1.5,"labelExpr":"datum.label + '_BMJ'"}}}},
{"mark":{"type":"point","filled":false,"size":10,"strokeWidth":1,"opacity":1},"encoding":{"x":{"field":"t","type":"quantitative","title":"Date and Time (UTC)"},"y":{"field":"v","type":"quantitative","title":"GHF (W m⁻²)"},"color":{"field":"s","type":"nominal","legend":null},"shape":{"field":"s","type":"nominal","scale":{"domain":["KS","Lin","WSM3","FE","WSM6","TH"],"range":["diamond","square","triangle-up","M-1,-1L1,1M-1,1L1,-1","M-1,-1L1,1M-1,1L1,-1M0,-1.3L0,1.3","circle"]},"legend":null}}},
{"data":{"name":"xl"},"mark":{"type":"text","angle":-40,"align":"right","baseline":"middle","dx":-4,"dy":6,"font":"DejaVu Sans","fontWeight":"bold","fontSize":12,"color":"black"},"encoding":{"x":{"field":"t","type":"quantitative","title":"Date and Time (UTC)"},"y":{"datum":0},"text":{"field":"lab"}}},
{"mark":{"type":"text","font":"Liberation Serif","fontSize":26,"color":"black"},"encoding":{"x":{"datum":20.7},"y":{"datum":-69},"text":{"value":"(j)"}}},
{"mark":{"type":"text","font":"DejaVu Sans","fontWeight":"bold","fontSize":12,"color":"#333333"},"encoding":{"x":{"datum":4.0},"y":{"datum":-139},"text":{"value":"Region 5"}}}]}
],"spacing":28,"resolve":{"scale":{"x":"independent","y":"independent","color":"independent","shape":"independent"}}}
]}
